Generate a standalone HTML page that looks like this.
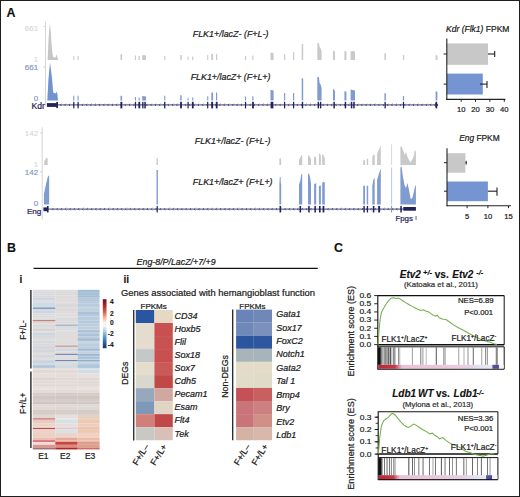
<!DOCTYPE html>
<html><head><meta charset="utf-8"><style>
html,body{margin:0;padding:0;background:#fff;width:520px;height:497px;overflow:hidden}
svg{display:block;font-family:"Liberation Sans", sans-serif}
</style></head><body>
<svg width="520" height="497" viewBox="0 0 520 497">
<rect x="0" y="0" width="520" height="497" fill="#fff"/>
<text x="6.5" y="17.4" font-size="12.4" fill="#111" stroke="#111" stroke-width="0.132" text-anchor="start" font-style="normal" font-weight="bold" >A</text>
<line x1="45.5" y1="21.5" x2="45.5" y2="106" stroke="#d6ced2" stroke-width="0.9" />
<line x1="43.3" y1="26.6" x2="45.5" y2="26.6" stroke="#d6ced2" stroke-width="0.9" />
<line x1="43.3" y1="67" x2="45.5" y2="67" stroke="#d6ced2" stroke-width="0.9" />
<text x="38.1" y="31.4" font-size="8.0" fill="#d6d6d6" stroke="#d6d6d6" stroke-width="0.1" text-anchor="end" font-style="normal" font-weight="normal" >661</text>
<text x="38.1" y="62.0" font-size="8.0" fill="#d6d6d6" stroke="#d6d6d6" stroke-width="0.1" text-anchor="end" font-style="normal" font-weight="normal" >1</text>
<text x="38.1" y="69.9" font-size="8.0" fill="#7f98c6" stroke="#7f98c6" stroke-width="0.18" text-anchor="end" font-style="normal" font-weight="normal" >661</text>
<text x="38.1" y="101.4" font-size="8.0" fill="#7f98c6" stroke="#7f98c6" stroke-width="0.18" text-anchor="end" font-style="normal" font-weight="normal" >0</text>
<text x="44.8" y="108.6" font-size="8.5" fill="#23235c" stroke="#23235c" stroke-width="0.22" text-anchor="end" font-style="normal" font-weight="normal" >Kdr</text>
<polygon points="47.60,60.00 48.60,38.00 49.90,22.60 50.80,32.00 51.60,45.00 52.50,54.00 53.40,57.20 55.50,57.40 56.50,54.40 57.40,57.00 58.20,60.00" fill="#c6c6c6" />
<polygon points="47.30,100.60 48.40,80.00 50.00,62.50 51.00,70.00 52.10,79.00 53.20,92.40 55.50,93.60 56.70,91.80 57.40,94.00 58.00,100.60" fill="#7392d0" />
<polygon points="73.20,60.00 73.20,56.60 73.59,56.00 74.30,56.00 74.30,60.00" fill="#c9c9c9" />
<polygon points="73.20,100.60 73.20,95.80 74.30,95.80 74.30,100.60" fill="#809bd0" />
<polygon points="77.50,60.00 77.50,56.60 77.88,56.00 78.60,56.00 78.60,60.00" fill="#c9c9c9" />
<polygon points="77.50,100.60 77.50,95.80 78.60,95.80 78.60,100.60" fill="#809bd0" />
<polygon points="120.50,60.00 120.50,54.40 121.06,53.80 122.10,54.50 122.10,60.00" fill="#c9c9c9" />
<polygon points="120.50,100.60 120.50,95.80 122.10,95.80 122.10,100.60" fill="#809bd0" />
<polygon points="134.90,60.00 134.90,56.10 135.28,55.50 136.00,55.50 136.00,60.00" fill="#c9c9c9" />
<polygon points="134.90,100.60 134.90,97.10 136.00,97.10 136.00,100.60" fill="#809bd0" />
<polygon points="138.60,60.00 138.60,56.60 139.02,56.00 139.80,56.00 139.80,60.00" fill="#c9c9c9" />
<polygon points="138.60,100.60 138.60,97.80 139.80,97.80 139.80,100.60" fill="#809bd0" />
<polygon points="142.20,60.00 142.20,55.60 143.53,55.00 146.00,55.40 146.00,60.00" fill="#c9c9c9" />
<polygon points="142.20,100.60 142.20,96.00 146.00,96.40 146.00,100.60" fill="#809bd0" />
<polygon points="164.20,60.00 164.20,56.60 164.59,56.00 165.30,56.00 165.30,60.00" fill="#c9c9c9" />
<polygon points="164.20,100.60 164.20,95.80 165.30,95.80 165.30,100.60" fill="#809bd0" />
<polygon points="180.20,60.00 180.20,55.60 180.72,55.00 181.70,55.00 181.70,60.00" fill="#c9c9c9" />
<polygon points="180.20,100.60 180.20,95.10 181.70,95.60 181.70,100.60" fill="#809bd0" />
<polygon points="187.60,60.00 187.60,57.10 187.95,56.50 188.60,56.50 188.60,60.00" fill="#c9c9c9" />
<polygon points="187.60,100.60 187.60,97.80 188.60,97.80 188.60,100.60" fill="#809bd0" />
<polygon points="192.10,60.00 192.10,57.10 192.52,56.50 193.30,56.50 193.30,60.00" fill="#c9c9c9" />
<polygon points="192.10,100.60 192.10,97.40 193.30,97.40 193.30,100.60" fill="#809bd0" />
<polygon points="207.20,60.00 207.20,55.60 207.59,55.00 208.30,55.00 208.30,60.00" fill="#c9c9c9" />
<polygon points="207.20,100.60 207.20,96.20 208.30,96.20 208.30,100.60" fill="#809bd0" />
<polygon points="211.30,60.00 211.30,54.40 211.93,53.80 213.10,54.00 213.10,60.00" fill="#c9c9c9" />
<polygon points="211.30,100.60 211.30,92.40 213.10,92.60 213.10,100.60" fill="#809bd0" />
<polygon points="216.00,60.00 216.00,54.40 216.42,53.80 217.20,54.00 217.20,60.00" fill="#c9c9c9" />
<polygon points="216.00,100.60 216.00,92.40 217.20,92.60 217.20,100.60" fill="#809bd0" />
<polygon points="244.90,60.00 244.90,56.10 245.32,55.50 246.10,56.50 246.10,60.00" fill="#c9c9c9" />
<polygon points="244.90,100.60 244.90,95.90 246.10,97.00 246.10,100.60" fill="#809bd0" />
<polygon points="252.30,60.00 252.30,56.10 252.72,55.50 253.50,55.50 253.50,60.00" fill="#c9c9c9" />
<polygon points="252.30,100.60 252.30,95.90 253.50,96.40 253.50,100.60" fill="#809bd0" />
<polygon points="270.50,60.00 270.50,53.10 271.59,52.50 273.60,53.50 273.60,60.00" fill="#c9c9c9" />
<polygon points="270.50,100.60 270.50,89.70 273.60,90.50 273.60,100.60" fill="#809bd0" />
<polygon points="284.00,60.00 284.00,54.60 284.42,54.00 285.20,54.00 285.20,60.00" fill="#c9c9c9" />
<polygon points="284.00,100.60 284.00,93.00 285.20,93.00 285.20,100.60" fill="#809bd0" />
<polygon points="293.00,60.00 293.00,52.60 293.42,52.00 294.20,52.00 294.20,60.00" fill="#c9c9c9" />
<polygon points="293.00,100.60 293.00,93.00 294.20,93.00 294.20,100.60" fill="#809bd0" />
<polygon points="301.70,60.00 301.70,44.40 302.22,43.80 303.20,44.50 303.20,60.00" fill="#c9c9c9" />
<polygon points="301.70,100.60 301.70,78.00 303.20,78.50 303.20,100.60" fill="#809bd0" />
<polygon points="317.30,60.00 317.30,43.50 318.00,42.50 319.00,43.50 319.60,47.00 320.60,48.50 321.60,51.00 321.60,60.00" fill="#c9c9c9" />
<polygon points="317.30,100.60 317.30,77.20 318.00,76.70 319.00,77.50 319.60,83.00 320.60,84.50 321.60,88.00 321.60,100.60" fill="#809bd0" />
<polygon points="333.00,60.00 333.00,51.10 333.70,50.50 335.00,52.00 335.00,60.00" fill="#c9c9c9" />
<polygon points="333.00,100.60 333.00,88.50 335.00,91.00 335.00,100.60" fill="#809bd0" />
<polygon points="344.40,60.00 344.40,51.60 345.10,51.00 346.40,51.50 346.40,60.00" fill="#c9c9c9" />
<polygon points="344.40,100.60 344.40,91.20 346.40,91.50 346.40,100.60" fill="#809bd0" />
<polygon points="350.60,60.00 350.60,51.60 352.14,51.00 355.00,51.50 355.00,60.00" fill="#c9c9c9" />
<polygon points="350.60,100.60 350.60,89.60 355.00,90.50 355.00,100.60" fill="#809bd0" />
<polygon points="384.40,60.00 384.40,53.60 384.92,53.00 385.90,53.50 385.90,60.00" fill="#c9c9c9" />
<polygon points="384.40,100.60 384.40,93.00 385.90,93.50 385.90,100.60" fill="#809bd0" />
<polygon points="402.90,60.00 402.90,55.60 403.32,55.00 404.10,55.00 404.10,60.00" fill="#c9c9c9" />
<polygon points="402.90,100.60 402.90,96.00 404.10,96.00 404.10,100.60" fill="#809bd0" />
<polygon points="435.60,60.00 435.60,55.60 436.23,55.00 437.40,55.50 437.40,60.00" fill="#c9c9c9" />
<polygon points="435.60,100.60 435.60,91.20 437.40,91.80 437.40,100.60" fill="#809bd0" />
<line x1="47" y1="104.9" x2="437.5" y2="104.9" stroke="#6a6a96" stroke-width="1.2" />
<path d="M61.4,103.8 L60.3,104.9 L61.4,106.0" fill="none" stroke="#3a3a70" stroke-width="0.8"/>
<path d="M65.7,103.8 L64.6,104.9 L65.7,106.0" fill="none" stroke="#3a3a70" stroke-width="0.8"/>
<path d="M70.0,103.8 L68.9,104.9 L70.0,106.0" fill="none" stroke="#3a3a70" stroke-width="0.8"/>
<path d="M74.3,103.8 L73.2,104.9 L74.3,106.0" fill="none" stroke="#3a3a70" stroke-width="0.8"/>
<path d="M78.6,103.8 L77.5,104.9 L78.6,106.0" fill="none" stroke="#3a3a70" stroke-width="0.8"/>
<path d="M82.9,103.8 L81.8,104.9 L82.9,106.0" fill="none" stroke="#3a3a70" stroke-width="0.8"/>
<path d="M87.2,103.8 L86.1,104.9 L87.2,106.0" fill="none" stroke="#3a3a70" stroke-width="0.8"/>
<path d="M91.5,103.8 L90.4,104.9 L91.5,106.0" fill="none" stroke="#3a3a70" stroke-width="0.8"/>
<path d="M95.8,103.8 L94.7,104.9 L95.8,106.0" fill="none" stroke="#3a3a70" stroke-width="0.8"/>
<path d="M100.1,103.8 L99.0,104.9 L100.1,106.0" fill="none" stroke="#3a3a70" stroke-width="0.8"/>
<path d="M104.4,103.8 L103.3,104.9 L104.4,106.0" fill="none" stroke="#3a3a70" stroke-width="0.8"/>
<path d="M108.7,103.8 L107.6,104.9 L108.7,106.0" fill="none" stroke="#3a3a70" stroke-width="0.8"/>
<path d="M113.0,103.8 L111.9,104.9 L113.0,106.0" fill="none" stroke="#3a3a70" stroke-width="0.8"/>
<path d="M117.3,103.8 L116.2,104.9 L117.3,106.0" fill="none" stroke="#3a3a70" stroke-width="0.8"/>
<path d="M121.6,103.8 L120.5,104.9 L121.6,106.0" fill="none" stroke="#3a3a70" stroke-width="0.8"/>
<path d="M125.9,103.8 L124.8,104.9 L125.9,106.0" fill="none" stroke="#3a3a70" stroke-width="0.8"/>
<path d="M130.2,103.8 L129.1,104.9 L130.2,106.0" fill="none" stroke="#3a3a70" stroke-width="0.8"/>
<path d="M134.5,103.8 L133.4,104.9 L134.5,106.0" fill="none" stroke="#3a3a70" stroke-width="0.8"/>
<path d="M138.8,103.8 L137.7,104.9 L138.8,106.0" fill="none" stroke="#3a3a70" stroke-width="0.8"/>
<path d="M143.1,103.8 L142.0,104.9 L143.1,106.0" fill="none" stroke="#3a3a70" stroke-width="0.8"/>
<path d="M147.4,103.8 L146.3,104.9 L147.4,106.0" fill="none" stroke="#3a3a70" stroke-width="0.8"/>
<path d="M151.7,103.8 L150.6,104.9 L151.7,106.0" fill="none" stroke="#3a3a70" stroke-width="0.8"/>
<path d="M156.0,103.8 L154.9,104.9 L156.0,106.0" fill="none" stroke="#3a3a70" stroke-width="0.8"/>
<path d="M160.3,103.8 L159.2,104.9 L160.3,106.0" fill="none" stroke="#3a3a70" stroke-width="0.8"/>
<path d="M164.6,103.8 L163.5,104.9 L164.6,106.0" fill="none" stroke="#3a3a70" stroke-width="0.8"/>
<path d="M168.9,103.8 L167.8,104.9 L168.9,106.0" fill="none" stroke="#3a3a70" stroke-width="0.8"/>
<path d="M173.2,103.8 L172.1,104.9 L173.2,106.0" fill="none" stroke="#3a3a70" stroke-width="0.8"/>
<path d="M177.5,103.8 L176.4,104.9 L177.5,106.0" fill="none" stroke="#3a3a70" stroke-width="0.8"/>
<path d="M181.8,103.8 L180.7,104.9 L181.8,106.0" fill="none" stroke="#3a3a70" stroke-width="0.8"/>
<path d="M186.1,103.8 L185.0,104.9 L186.1,106.0" fill="none" stroke="#3a3a70" stroke-width="0.8"/>
<path d="M190.4,103.8 L189.3,104.9 L190.4,106.0" fill="none" stroke="#3a3a70" stroke-width="0.8"/>
<path d="M194.7,103.8 L193.6,104.9 L194.7,106.0" fill="none" stroke="#3a3a70" stroke-width="0.8"/>
<path d="M199.0,103.8 L197.9,104.9 L199.0,106.0" fill="none" stroke="#3a3a70" stroke-width="0.8"/>
<path d="M203.3,103.8 L202.2,104.9 L203.3,106.0" fill="none" stroke="#3a3a70" stroke-width="0.8"/>
<path d="M207.6,103.8 L206.5,104.9 L207.6,106.0" fill="none" stroke="#3a3a70" stroke-width="0.8"/>
<path d="M211.9,103.8 L210.8,104.9 L211.9,106.0" fill="none" stroke="#3a3a70" stroke-width="0.8"/>
<path d="M216.2,103.8 L215.1,104.9 L216.2,106.0" fill="none" stroke="#3a3a70" stroke-width="0.8"/>
<path d="M220.5,103.8 L219.4,104.9 L220.5,106.0" fill="none" stroke="#3a3a70" stroke-width="0.8"/>
<path d="M224.8,103.8 L223.7,104.9 L224.8,106.0" fill="none" stroke="#3a3a70" stroke-width="0.8"/>
<path d="M229.1,103.8 L228.0,104.9 L229.1,106.0" fill="none" stroke="#3a3a70" stroke-width="0.8"/>
<path d="M233.4,103.8 L232.3,104.9 L233.4,106.0" fill="none" stroke="#3a3a70" stroke-width="0.8"/>
<path d="M237.7,103.8 L236.6,104.9 L237.7,106.0" fill="none" stroke="#3a3a70" stroke-width="0.8"/>
<path d="M242.0,103.8 L240.9,104.9 L242.0,106.0" fill="none" stroke="#3a3a70" stroke-width="0.8"/>
<path d="M246.3,103.8 L245.2,104.9 L246.3,106.0" fill="none" stroke="#3a3a70" stroke-width="0.8"/>
<path d="M250.6,103.8 L249.5,104.9 L250.6,106.0" fill="none" stroke="#3a3a70" stroke-width="0.8"/>
<path d="M254.9,103.8 L253.8,104.9 L254.9,106.0" fill="none" stroke="#3a3a70" stroke-width="0.8"/>
<path d="M259.2,103.8 L258.1,104.9 L259.2,106.0" fill="none" stroke="#3a3a70" stroke-width="0.8"/>
<path d="M263.5,103.8 L262.4,104.9 L263.5,106.0" fill="none" stroke="#3a3a70" stroke-width="0.8"/>
<path d="M267.8,103.8 L266.7,104.9 L267.8,106.0" fill="none" stroke="#3a3a70" stroke-width="0.8"/>
<path d="M272.1,103.8 L271.0,104.9 L272.1,106.0" fill="none" stroke="#3a3a70" stroke-width="0.8"/>
<path d="M276.4,103.8 L275.3,104.9 L276.4,106.0" fill="none" stroke="#3a3a70" stroke-width="0.8"/>
<path d="M280.7,103.8 L279.6,104.9 L280.7,106.0" fill="none" stroke="#3a3a70" stroke-width="0.8"/>
<path d="M285.0,103.8 L283.9,104.9 L285.0,106.0" fill="none" stroke="#3a3a70" stroke-width="0.8"/>
<path d="M289.3,103.8 L288.2,104.9 L289.3,106.0" fill="none" stroke="#3a3a70" stroke-width="0.8"/>
<path d="M293.6,103.8 L292.5,104.9 L293.6,106.0" fill="none" stroke="#3a3a70" stroke-width="0.8"/>
<path d="M297.9,103.8 L296.8,104.9 L297.9,106.0" fill="none" stroke="#3a3a70" stroke-width="0.8"/>
<path d="M302.2,103.8 L301.1,104.9 L302.2,106.0" fill="none" stroke="#3a3a70" stroke-width="0.8"/>
<path d="M306.5,103.8 L305.4,104.9 L306.5,106.0" fill="none" stroke="#3a3a70" stroke-width="0.8"/>
<path d="M310.8,103.8 L309.7,104.9 L310.8,106.0" fill="none" stroke="#3a3a70" stroke-width="0.8"/>
<path d="M315.1,103.8 L314.0,104.9 L315.1,106.0" fill="none" stroke="#3a3a70" stroke-width="0.8"/>
<path d="M319.4,103.8 L318.3,104.9 L319.4,106.0" fill="none" stroke="#3a3a70" stroke-width="0.8"/>
<path d="M323.7,103.8 L322.6,104.9 L323.7,106.0" fill="none" stroke="#3a3a70" stroke-width="0.8"/>
<path d="M328.0,103.8 L326.9,104.9 L328.0,106.0" fill="none" stroke="#3a3a70" stroke-width="0.8"/>
<path d="M332.3,103.8 L331.2,104.9 L332.3,106.0" fill="none" stroke="#3a3a70" stroke-width="0.8"/>
<path d="M336.6,103.8 L335.5,104.9 L336.6,106.0" fill="none" stroke="#3a3a70" stroke-width="0.8"/>
<path d="M340.9,103.8 L339.8,104.9 L340.9,106.0" fill="none" stroke="#3a3a70" stroke-width="0.8"/>
<path d="M345.2,103.8 L344.1,104.9 L345.2,106.0" fill="none" stroke="#3a3a70" stroke-width="0.8"/>
<path d="M349.5,103.8 L348.4,104.9 L349.5,106.0" fill="none" stroke="#3a3a70" stroke-width="0.8"/>
<path d="M353.8,103.8 L352.7,104.9 L353.8,106.0" fill="none" stroke="#3a3a70" stroke-width="0.8"/>
<path d="M358.1,103.8 L357.0,104.9 L358.1,106.0" fill="none" stroke="#3a3a70" stroke-width="0.8"/>
<path d="M362.4,103.8 L361.3,104.9 L362.4,106.0" fill="none" stroke="#3a3a70" stroke-width="0.8"/>
<path d="M366.7,103.8 L365.6,104.9 L366.7,106.0" fill="none" stroke="#3a3a70" stroke-width="0.8"/>
<path d="M371.0,103.8 L369.9,104.9 L371.0,106.0" fill="none" stroke="#3a3a70" stroke-width="0.8"/>
<path d="M375.3,103.8 L374.2,104.9 L375.3,106.0" fill="none" stroke="#3a3a70" stroke-width="0.8"/>
<path d="M379.6,103.8 L378.5,104.9 L379.6,106.0" fill="none" stroke="#3a3a70" stroke-width="0.8"/>
<path d="M383.9,103.8 L382.8,104.9 L383.9,106.0" fill="none" stroke="#3a3a70" stroke-width="0.8"/>
<path d="M388.2,103.8 L387.1,104.9 L388.2,106.0" fill="none" stroke="#3a3a70" stroke-width="0.8"/>
<path d="M392.5,103.8 L391.4,104.9 L392.5,106.0" fill="none" stroke="#3a3a70" stroke-width="0.8"/>
<path d="M396.8,103.8 L395.7,104.9 L396.8,106.0" fill="none" stroke="#3a3a70" stroke-width="0.8"/>
<path d="M401.1,103.8 L400.0,104.9 L401.1,106.0" fill="none" stroke="#3a3a70" stroke-width="0.8"/>
<path d="M405.4,103.8 L404.3,104.9 L405.4,106.0" fill="none" stroke="#3a3a70" stroke-width="0.8"/>
<path d="M409.7,103.8 L408.6,104.9 L409.7,106.0" fill="none" stroke="#3a3a70" stroke-width="0.8"/>
<path d="M414.0,103.8 L412.9,104.9 L414.0,106.0" fill="none" stroke="#3a3a70" stroke-width="0.8"/>
<path d="M418.3,103.8 L417.2,104.9 L418.3,106.0" fill="none" stroke="#3a3a70" stroke-width="0.8"/>
<path d="M422.6,103.8 L421.5,104.9 L422.6,106.0" fill="none" stroke="#3a3a70" stroke-width="0.8"/>
<path d="M426.9,103.8 L425.8,104.9 L426.9,106.0" fill="none" stroke="#3a3a70" stroke-width="0.8"/>
<path d="M431.2,103.8 L430.1,104.9 L431.2,106.0" fill="none" stroke="#3a3a70" stroke-width="0.8"/>
<path d="M435.5,103.8 L434.4,104.9 L435.5,106.0" fill="none" stroke="#3a3a70" stroke-width="0.8"/>
<rect x="46.90" y="103.10" width="10.00" height="3.80" fill="#23235c" />
<rect x="56.30" y="101.90" width="1.70" height="6.20" fill="#23235c" />
<rect x="73.20" y="101.80" width="1.20" height="6.60" fill="#23235c" />
<rect x="77.50" y="101.80" width="1.20" height="6.60" fill="#23235c" />
<rect x="120.40" y="101.80" width="1.90" height="6.60" fill="#23235c" />
<rect x="134.90" y="101.80" width="1.20" height="6.60" fill="#23235c" />
<rect x="138.40" y="101.80" width="1.80" height="6.60" fill="#23235c" />
<rect x="142.20" y="101.80" width="1.30" height="6.60" fill="#23235c" />
<rect x="144.30" y="101.80" width="1.50" height="6.60" fill="#23235c" />
<rect x="164.10" y="101.80" width="1.30" height="6.60" fill="#23235c" />
<rect x="180.10" y="101.80" width="1.80" height="6.60" fill="#23235c" />
<rect x="187.50" y="101.80" width="1.20" height="6.60" fill="#23235c" />
<rect x="191.90" y="101.80" width="1.80" height="6.60" fill="#23235c" />
<rect x="207.10" y="101.80" width="1.20" height="6.60" fill="#23235c" />
<rect x="211.20" y="101.80" width="1.90" height="6.60" fill="#23235c" />
<rect x="215.80" y="101.80" width="1.80" height="6.60" fill="#23235c" />
<rect x="244.90" y="101.80" width="1.20" height="6.60" fill="#23235c" />
<rect x="252.10" y="101.80" width="1.80" height="6.60" fill="#23235c" />
<rect x="270.60" y="101.80" width="2.80" height="6.60" fill="#23235c" />
<rect x="284.00" y="101.80" width="1.20" height="6.60" fill="#23235c" />
<rect x="293.00" y="101.80" width="1.20" height="6.60" fill="#23235c" />
<rect x="301.80" y="101.80" width="1.40" height="6.60" fill="#23235c" />
<rect x="317.60" y="101.80" width="1.40" height="6.60" fill="#23235c" />
<rect x="319.90" y="101.80" width="1.40" height="6.60" fill="#23235c" />
<rect x="333.40" y="101.80" width="1.50" height="6.60" fill="#23235c" />
<rect x="344.70" y="101.80" width="1.50" height="6.60" fill="#23235c" />
<rect x="350.80" y="101.80" width="1.50" height="6.60" fill="#23235c" />
<rect x="353.20" y="101.80" width="1.50" height="6.60" fill="#23235c" />
<rect x="384.50" y="101.80" width="1.30" height="6.60" fill="#23235c" />
<rect x="402.90" y="101.80" width="1.20" height="6.60" fill="#23235c" />
<rect x="435.60" y="101.80" width="1.60" height="6.60" fill="#23235c" />
<polygon points="435.40,102.40 438.40,104.90 435.40,107.40" fill="#23235c" />
<text x="192.7" y="37.0" font-size="8.92" fill="#1a1a1a" stroke="#1a1a1a" stroke-width="0.22" text-anchor="start" font-style="italic" font-weight="normal" >FLK1+/lacZ- (F+L-)</text>
<text x="190.7" y="80.0" font-size="8.87" fill="#1a1a1a" stroke="#1a1a1a" stroke-width="0.22" text-anchor="start" font-style="italic" font-weight="normal" >FLK1+/lacZ+ (F+L+)</text>
<line x1="42.2" y1="127.2" x2="42.2" y2="219.5" stroke="#d6ced2" stroke-width="0.9" />
<line x1="40" y1="133.1" x2="42.2" y2="133.1" stroke="#d6ced2" stroke-width="0.9" />
<line x1="40" y1="171.8" x2="42.2" y2="171.8" stroke="#d6ced2" stroke-width="0.9" />
<text x="38.1" y="136.2" font-size="8.0" fill="#d6d6d6" stroke="#d6d6d6" stroke-width="0.1" text-anchor="end" font-style="normal" font-weight="normal" >142</text>
<text x="38.1" y="167.0" font-size="8.0" fill="#d6d6d6" stroke="#d6d6d6" stroke-width="0.1" text-anchor="end" font-style="normal" font-weight="normal" >1</text>
<text x="38.1" y="174.6" font-size="8.0" fill="#7f98c6" stroke="#7f98c6" stroke-width="0.18" text-anchor="end" font-style="normal" font-weight="normal" >142</text>
<text x="38.1" y="206.3" font-size="8.0" fill="#7f98c6" stroke="#7f98c6" stroke-width="0.18" text-anchor="end" font-style="normal" font-weight="normal" >0</text>
<text x="41.3" y="214.0" font-size="8.1" fill="#23235c" stroke="#23235c" stroke-width="0.22" text-anchor="end" font-style="normal" font-weight="normal" >Eng</text>
<polygon points="44.20,165.00 44.40,161.00 46.20,158.00 47.60,158.00 47.60,165.00" fill="#c9c9c9" />
<polygon points="43.90,204.60 43.90,194.00 45.60,186.00 47.60,177.50 48.60,175.40 49.20,176.00 49.20,204.60" fill="#809bd0" />
<polygon points="156.50,204.60 156.50,170.00 157.90,170.00 157.90,204.60" fill="#809bd0" />
<polygon points="156.50,165.00 156.60,158.00 157.80,158.00 157.90,165.00" fill="#c9c9c9" />
<polygon points="279.40,204.60 279.40,184.00 279.80,177.00 280.60,177.00 280.80,183.00 281.20,184.00 281.20,204.60" fill="#809bd0" />
<polygon points="279.40,165.00 279.40,159.00 280.20,157.50 281.20,160.00 281.20,165.00" fill="#c9c9c9" />
<polygon points="299.00,204.60 299.00,184.50 300.20,181.00 301.40,174.00 302.20,173.50 302.20,204.60" fill="#809bd0" />
<polygon points="299.00,165.00 299.00,160.00 301.50,155.00 302.20,156.00 302.20,165.00" fill="#c9c9c9" />
<polygon points="308.00,204.60 308.00,174.00 309.00,173.60 310.20,178.00 311.00,183.50 311.00,204.60" fill="#809bd0" />
<polygon points="308.00,165.00 308.00,156.00 308.80,155.00 311.00,159.00 311.00,165.00" fill="#c9c9c9" />
<polygon points="314.10,204.60 314.10,184.00 316.20,183.30 316.20,204.60" fill="#809bd0" />
<polygon points="314.10,165.00 314.10,157.50 315.00,155.90 316.20,158.00 316.20,165.00" fill="#c9c9c9" />
<polygon points="318.90,204.60 318.90,186.00 320.90,185.60 320.90,204.60" fill="#809bd0" />
<polygon points="318.90,165.00 318.90,155.00 319.70,153.00 320.90,156.00 320.90,165.00" fill="#c9c9c9" />
<polygon points="322.20,204.60 322.20,183.00 323.80,181.80 324.80,182.50 324.80,204.60" fill="#809bd0" />
<polygon points="322.20,165.00 322.20,155.00 323.00,154.00 324.80,158.50 324.80,165.00" fill="#c9c9c9" />
<polygon points="363.20,204.60 363.20,186.00 365.00,185.60 365.00,204.60" fill="#809bd0" />
<polygon points="363.20,165.00 363.20,160.50 365.00,160.00 365.00,165.00" fill="#c9c9c9" />
<polygon points="366.70,204.60 366.70,186.00 368.20,185.60 368.20,204.60" fill="#809bd0" />
<polygon points="366.70,165.00 366.70,159.00 368.20,158.60 368.20,165.00" fill="#c9c9c9" />
<polygon points="372.30,204.60 372.30,186.00 373.30,180.00 374.70,177.50 374.70,204.60" fill="#809bd0" />
<polygon points="372.30,165.00 372.30,157.00 373.60,154.40 374.70,155.00 374.70,165.00" fill="#c9c9c9" />
<polygon points="377.10,204.60 377.10,180.00 378.50,175.00 380.80,168.60 380.80,204.60" fill="#809bd0" />
<polygon points="377.10,165.00 377.10,154.00 378.80,150.00 380.80,145.80 380.80,165.00" fill="#c9c9c9" />
<line x1="391.6" y1="144.3" x2="391.6" y2="165" stroke="#d8d8d8" stroke-width="1" />
<line x1="391.6" y1="167.5" x2="391.6" y2="204.6" stroke="#bccbe6" stroke-width="1" />
<polygon points="400.40,165.00 400.40,146.50 401.50,146.20 403.00,150.00 404.50,155.00 406.00,152.00 407.50,157.00 409.00,160.00 410.50,162.50 412.00,160.00 413.50,157.00 415.00,149.50 415.90,152.00 415.90,165.00" fill="#c9c9c9" />
<polygon points="400.40,204.60 400.40,167.60 401.50,166.30 403.00,177.00 404.50,185.00 406.00,188.00 407.50,183.00 409.00,190.00 410.80,199.50 412.50,197.50 414.00,191.00 415.30,185.30 415.90,186.00 415.90,204.60" fill="#809bd0" />
<line x1="43.5" y1="209.2" x2="416" y2="209.2" stroke="#6a6a96" stroke-width="1.2" />
<path d="M53.4,208.1 L52.3,209.2 L53.4,210.3" fill="none" stroke="#3a3a70" stroke-width="0.8"/>
<path d="M57.7,208.1 L56.6,209.2 L57.7,210.3" fill="none" stroke="#3a3a70" stroke-width="0.8"/>
<path d="M62.0,208.1 L60.9,209.2 L62.0,210.3" fill="none" stroke="#3a3a70" stroke-width="0.8"/>
<path d="M66.3,208.1 L65.2,209.2 L66.3,210.3" fill="none" stroke="#3a3a70" stroke-width="0.8"/>
<path d="M70.6,208.1 L69.5,209.2 L70.6,210.3" fill="none" stroke="#3a3a70" stroke-width="0.8"/>
<path d="M74.9,208.1 L73.8,209.2 L74.9,210.3" fill="none" stroke="#3a3a70" stroke-width="0.8"/>
<path d="M79.2,208.1 L78.1,209.2 L79.2,210.3" fill="none" stroke="#3a3a70" stroke-width="0.8"/>
<path d="M83.5,208.1 L82.4,209.2 L83.5,210.3" fill="none" stroke="#3a3a70" stroke-width="0.8"/>
<path d="M87.8,208.1 L86.7,209.2 L87.8,210.3" fill="none" stroke="#3a3a70" stroke-width="0.8"/>
<path d="M92.1,208.1 L91.0,209.2 L92.1,210.3" fill="none" stroke="#3a3a70" stroke-width="0.8"/>
<path d="M96.4,208.1 L95.3,209.2 L96.4,210.3" fill="none" stroke="#3a3a70" stroke-width="0.8"/>
<path d="M100.7,208.1 L99.6,209.2 L100.7,210.3" fill="none" stroke="#3a3a70" stroke-width="0.8"/>
<path d="M105.0,208.1 L103.9,209.2 L105.0,210.3" fill="none" stroke="#3a3a70" stroke-width="0.8"/>
<path d="M109.3,208.1 L108.2,209.2 L109.3,210.3" fill="none" stroke="#3a3a70" stroke-width="0.8"/>
<path d="M113.6,208.1 L112.5,209.2 L113.6,210.3" fill="none" stroke="#3a3a70" stroke-width="0.8"/>
<path d="M117.9,208.1 L116.8,209.2 L117.9,210.3" fill="none" stroke="#3a3a70" stroke-width="0.8"/>
<path d="M122.2,208.1 L121.1,209.2 L122.2,210.3" fill="none" stroke="#3a3a70" stroke-width="0.8"/>
<path d="M126.5,208.1 L125.4,209.2 L126.5,210.3" fill="none" stroke="#3a3a70" stroke-width="0.8"/>
<path d="M130.8,208.1 L129.7,209.2 L130.8,210.3" fill="none" stroke="#3a3a70" stroke-width="0.8"/>
<path d="M135.1,208.1 L134.0,209.2 L135.1,210.3" fill="none" stroke="#3a3a70" stroke-width="0.8"/>
<path d="M139.4,208.1 L138.3,209.2 L139.4,210.3" fill="none" stroke="#3a3a70" stroke-width="0.8"/>
<path d="M143.7,208.1 L142.6,209.2 L143.7,210.3" fill="none" stroke="#3a3a70" stroke-width="0.8"/>
<path d="M148.0,208.1 L146.9,209.2 L148.0,210.3" fill="none" stroke="#3a3a70" stroke-width="0.8"/>
<path d="M152.3,208.1 L151.2,209.2 L152.3,210.3" fill="none" stroke="#3a3a70" stroke-width="0.8"/>
<path d="M156.6,208.1 L155.5,209.2 L156.6,210.3" fill="none" stroke="#3a3a70" stroke-width="0.8"/>
<path d="M160.9,208.1 L159.8,209.2 L160.9,210.3" fill="none" stroke="#3a3a70" stroke-width="0.8"/>
<path d="M165.2,208.1 L164.1,209.2 L165.2,210.3" fill="none" stroke="#3a3a70" stroke-width="0.8"/>
<path d="M169.5,208.1 L168.4,209.2 L169.5,210.3" fill="none" stroke="#3a3a70" stroke-width="0.8"/>
<path d="M173.8,208.1 L172.7,209.2 L173.8,210.3" fill="none" stroke="#3a3a70" stroke-width="0.8"/>
<path d="M178.1,208.1 L177.0,209.2 L178.1,210.3" fill="none" stroke="#3a3a70" stroke-width="0.8"/>
<path d="M182.4,208.1 L181.3,209.2 L182.4,210.3" fill="none" stroke="#3a3a70" stroke-width="0.8"/>
<path d="M186.7,208.1 L185.6,209.2 L186.7,210.3" fill="none" stroke="#3a3a70" stroke-width="0.8"/>
<path d="M191.0,208.1 L189.9,209.2 L191.0,210.3" fill="none" stroke="#3a3a70" stroke-width="0.8"/>
<path d="M195.3,208.1 L194.2,209.2 L195.3,210.3" fill="none" stroke="#3a3a70" stroke-width="0.8"/>
<path d="M199.6,208.1 L198.5,209.2 L199.6,210.3" fill="none" stroke="#3a3a70" stroke-width="0.8"/>
<path d="M203.9,208.1 L202.8,209.2 L203.9,210.3" fill="none" stroke="#3a3a70" stroke-width="0.8"/>
<path d="M208.2,208.1 L207.1,209.2 L208.2,210.3" fill="none" stroke="#3a3a70" stroke-width="0.8"/>
<path d="M212.5,208.1 L211.4,209.2 L212.5,210.3" fill="none" stroke="#3a3a70" stroke-width="0.8"/>
<path d="M216.8,208.1 L215.7,209.2 L216.8,210.3" fill="none" stroke="#3a3a70" stroke-width="0.8"/>
<path d="M221.1,208.1 L220.0,209.2 L221.1,210.3" fill="none" stroke="#3a3a70" stroke-width="0.8"/>
<path d="M225.4,208.1 L224.3,209.2 L225.4,210.3" fill="none" stroke="#3a3a70" stroke-width="0.8"/>
<path d="M229.7,208.1 L228.6,209.2 L229.7,210.3" fill="none" stroke="#3a3a70" stroke-width="0.8"/>
<path d="M234.0,208.1 L232.9,209.2 L234.0,210.3" fill="none" stroke="#3a3a70" stroke-width="0.8"/>
<path d="M238.3,208.1 L237.2,209.2 L238.3,210.3" fill="none" stroke="#3a3a70" stroke-width="0.8"/>
<path d="M242.6,208.1 L241.5,209.2 L242.6,210.3" fill="none" stroke="#3a3a70" stroke-width="0.8"/>
<path d="M246.9,208.1 L245.8,209.2 L246.9,210.3" fill="none" stroke="#3a3a70" stroke-width="0.8"/>
<path d="M251.2,208.1 L250.1,209.2 L251.2,210.3" fill="none" stroke="#3a3a70" stroke-width="0.8"/>
<path d="M255.5,208.1 L254.4,209.2 L255.5,210.3" fill="none" stroke="#3a3a70" stroke-width="0.8"/>
<path d="M259.8,208.1 L258.7,209.2 L259.8,210.3" fill="none" stroke="#3a3a70" stroke-width="0.8"/>
<path d="M264.1,208.1 L263.0,209.2 L264.1,210.3" fill="none" stroke="#3a3a70" stroke-width="0.8"/>
<path d="M268.4,208.1 L267.3,209.2 L268.4,210.3" fill="none" stroke="#3a3a70" stroke-width="0.8"/>
<path d="M272.7,208.1 L271.6,209.2 L272.7,210.3" fill="none" stroke="#3a3a70" stroke-width="0.8"/>
<path d="M277.0,208.1 L275.9,209.2 L277.0,210.3" fill="none" stroke="#3a3a70" stroke-width="0.8"/>
<path d="M281.3,208.1 L280.2,209.2 L281.3,210.3" fill="none" stroke="#3a3a70" stroke-width="0.8"/>
<path d="M285.6,208.1 L284.5,209.2 L285.6,210.3" fill="none" stroke="#3a3a70" stroke-width="0.8"/>
<path d="M289.9,208.1 L288.8,209.2 L289.9,210.3" fill="none" stroke="#3a3a70" stroke-width="0.8"/>
<path d="M294.2,208.1 L293.1,209.2 L294.2,210.3" fill="none" stroke="#3a3a70" stroke-width="0.8"/>
<path d="M298.5,208.1 L297.4,209.2 L298.5,210.3" fill="none" stroke="#3a3a70" stroke-width="0.8"/>
<path d="M302.8,208.1 L301.7,209.2 L302.8,210.3" fill="none" stroke="#3a3a70" stroke-width="0.8"/>
<path d="M307.1,208.1 L306.0,209.2 L307.1,210.3" fill="none" stroke="#3a3a70" stroke-width="0.8"/>
<path d="M311.4,208.1 L310.3,209.2 L311.4,210.3" fill="none" stroke="#3a3a70" stroke-width="0.8"/>
<path d="M315.7,208.1 L314.6,209.2 L315.7,210.3" fill="none" stroke="#3a3a70" stroke-width="0.8"/>
<path d="M320.0,208.1 L318.9,209.2 L320.0,210.3" fill="none" stroke="#3a3a70" stroke-width="0.8"/>
<path d="M324.3,208.1 L323.2,209.2 L324.3,210.3" fill="none" stroke="#3a3a70" stroke-width="0.8"/>
<path d="M328.6,208.1 L327.5,209.2 L328.6,210.3" fill="none" stroke="#3a3a70" stroke-width="0.8"/>
<path d="M332.9,208.1 L331.8,209.2 L332.9,210.3" fill="none" stroke="#3a3a70" stroke-width="0.8"/>
<path d="M337.2,208.1 L336.1,209.2 L337.2,210.3" fill="none" stroke="#3a3a70" stroke-width="0.8"/>
<path d="M341.5,208.1 L340.4,209.2 L341.5,210.3" fill="none" stroke="#3a3a70" stroke-width="0.8"/>
<path d="M345.8,208.1 L344.7,209.2 L345.8,210.3" fill="none" stroke="#3a3a70" stroke-width="0.8"/>
<path d="M350.1,208.1 L349.0,209.2 L350.1,210.3" fill="none" stroke="#3a3a70" stroke-width="0.8"/>
<path d="M354.4,208.1 L353.3,209.2 L354.4,210.3" fill="none" stroke="#3a3a70" stroke-width="0.8"/>
<path d="M358.7,208.1 L357.6,209.2 L358.7,210.3" fill="none" stroke="#3a3a70" stroke-width="0.8"/>
<path d="M363.0,208.1 L361.9,209.2 L363.0,210.3" fill="none" stroke="#3a3a70" stroke-width="0.8"/>
<path d="M367.3,208.1 L366.2,209.2 L367.3,210.3" fill="none" stroke="#3a3a70" stroke-width="0.8"/>
<path d="M371.6,208.1 L370.5,209.2 L371.6,210.3" fill="none" stroke="#3a3a70" stroke-width="0.8"/>
<path d="M375.9,208.1 L374.8,209.2 L375.9,210.3" fill="none" stroke="#3a3a70" stroke-width="0.8"/>
<path d="M380.2,208.1 L379.1,209.2 L380.2,210.3" fill="none" stroke="#3a3a70" stroke-width="0.8"/>
<path d="M384.5,208.1 L383.4,209.2 L384.5,210.3" fill="none" stroke="#3a3a70" stroke-width="0.8"/>
<path d="M388.8,208.1 L387.7,209.2 L388.8,210.3" fill="none" stroke="#3a3a70" stroke-width="0.8"/>
<path d="M393.1,208.1 L392.0,209.2 L393.1,210.3" fill="none" stroke="#3a3a70" stroke-width="0.8"/>
<path d="M397.4,208.1 L396.3,209.2 L397.4,210.3" fill="none" stroke="#3a3a70" stroke-width="0.8"/>
<path d="M401.7,208.1 L400.6,209.2 L401.7,210.3" fill="none" stroke="#3a3a70" stroke-width="0.8"/>
<rect x="43.50" y="207.40" width="4.00" height="3.80" fill="#23235c" />
<rect x="47.00" y="206.00" width="1.60" height="6.40" fill="#23235c" />
<rect x="156.60" y="205.90" width="1.20" height="6.60" fill="#23235c" />
<rect x="279.50" y="205.90" width="1.60" height="6.60" fill="#23235c" />
<rect x="299.50" y="205.90" width="1.60" height="6.60" fill="#23235c" />
<rect x="308.20" y="205.90" width="1.50" height="6.60" fill="#23235c" />
<rect x="314.40" y="205.90" width="1.50" height="6.60" fill="#23235c" />
<rect x="319.00" y="205.90" width="1.60" height="6.60" fill="#23235c" />
<rect x="322.60" y="205.90" width="1.70" height="6.60" fill="#23235c" />
<rect x="363.40" y="205.90" width="1.40" height="6.60" fill="#23235c" />
<rect x="366.80" y="205.90" width="1.30" height="6.60" fill="#23235c" />
<rect x="372.80" y="205.90" width="1.60" height="6.60" fill="#23235c" />
<rect x="378.20" y="205.90" width="1.90" height="6.60" fill="#23235c" />
<rect x="391.10" y="205.90" width="1.00" height="6.60" fill="#8a8ab0" />
<rect x="400.30" y="205.90" width="1.50" height="6.60" fill="#23235c" />
<rect x="403.30" y="207.00" width="12.60" height="3.70" fill="#23235c" />
<text x="395.4" y="220.6" font-size="7.9" fill="#23235c" stroke="#23235c" stroke-width="0.22" text-anchor="start" font-style="normal" font-weight="normal" >Fpgs</text>
<rect x="415.60" y="216.00" width="0.90" height="4.00" fill="#555580" />
<text x="194.7" y="144.4" font-size="8.92" fill="#1a1a1a" stroke="#1a1a1a" stroke-width="0.22" text-anchor="start" font-style="italic" font-weight="normal" >FLK1+/lacZ- (F+L-)</text>
<text x="192.8" y="184.8" font-size="8.87" fill="#1a1a1a" stroke="#1a1a1a" stroke-width="0.22" text-anchor="start" font-style="italic" font-weight="normal" >FLK1+/lacZ+ (F+L+)</text>
<text x="446.1" y="32.2" font-size="8.5" fill="#1a1a1a" stroke="#1a1a1a" stroke-width="0.22" text-anchor="start" font-style="normal" font-weight="normal" ><tspan font-style="italic">Kdr (Flk1)</tspan> FPKM</text>
<rect x="446.80" y="43.40" width="41.20" height="21.40" fill="#c8c8c8" />
<rect x="446.80" y="73.60" width="36.00" height="20.90" fill="#7595d2" />
<line x1="488" y1="54" x2="494.7" y2="54" stroke="#222" stroke-width="1.1" />
<line x1="494.7" y1="51.1" x2="494.7" y2="56.9" stroke="#222" stroke-width="1.1" />
<line x1="480" y1="84.1" x2="487" y2="84.1" stroke="#222" stroke-width="1.1" />
<line x1="487" y1="80.9" x2="487" y2="88.1" stroke="#222" stroke-width="1.1" />
<line x1="446.8" y1="38.5" x2="446.8" y2="99.9" stroke="#222" stroke-width="1.1" />
<line x1="446.3" y1="99.4" x2="505.4" y2="99.4" stroke="#222" stroke-width="1.1" />
<line x1="443.6" y1="54" x2="446.8" y2="54" stroke="#222" stroke-width="1" />
<line x1="443.6" y1="84.1" x2="446.8" y2="84.1" stroke="#222" stroke-width="1" />
<line x1="461.2" y1="99.4" x2="461.2" y2="101.8" stroke="#222" stroke-width="1" />
<text x="461.2" y="112.2" font-size="7.6" fill="#222" stroke="#222" stroke-width="0.22" text-anchor="middle" font-style="normal" font-weight="normal" >10</text>
<line x1="475.5" y1="99.4" x2="475.5" y2="101.8" stroke="#222" stroke-width="1" />
<text x="475.5" y="112.2" font-size="7.6" fill="#222" stroke="#222" stroke-width="0.22" text-anchor="middle" font-style="normal" font-weight="normal" >20</text>
<line x1="489.9" y1="99.4" x2="489.9" y2="101.8" stroke="#222" stroke-width="1" />
<text x="489.9" y="112.2" font-size="7.6" fill="#222" stroke="#222" stroke-width="0.22" text-anchor="middle" font-style="normal" font-weight="normal" >30</text>
<line x1="504.3" y1="99.4" x2="504.3" y2="101.8" stroke="#222" stroke-width="1" />
<text x="504.3" y="112.2" font-size="7.6" fill="#222" stroke="#222" stroke-width="0.22" text-anchor="middle" font-style="normal" font-weight="normal" >40</text>
<text x="459.2" y="141.0" font-size="8.4" fill="#1a1a1a" stroke="#1a1a1a" stroke-width="0.22" text-anchor="start" font-style="normal" font-weight="normal" ><tspan font-style="italic">Eng</tspan> FPKM</text>
<rect x="447.00" y="153.20" width="18.40" height="19.50" fill="#c8c8c8" />
<rect x="447.00" y="181.50" width="40.90" height="19.70" fill="#7595d2" />
<line x1="465.4" y1="162.7" x2="466.5" y2="162.7" stroke="#222" stroke-width="1" />
<line x1="466.2" y1="160.8" x2="466.2" y2="164.6" stroke="#222" stroke-width="1" />
<line x1="487.9" y1="191.2" x2="497" y2="191.2" stroke="#222" stroke-width="1.1" />
<line x1="497" y1="187.5" x2="497" y2="195.7" stroke="#222" stroke-width="1.1" />
<line x1="447" y1="148.3" x2="447" y2="206.3" stroke="#222" stroke-width="1.1" />
<line x1="446.5" y1="205.8" x2="511" y2="205.8" stroke="#222" stroke-width="1.1" />
<line x1="444" y1="162.7" x2="447" y2="162.7" stroke="#222" stroke-width="1" />
<line x1="444" y1="191.2" x2="447" y2="191.2" stroke="#222" stroke-width="1" />
<line x1="467.1" y1="205.8" x2="467.1" y2="208.2" stroke="#222" stroke-width="1" />
<text x="467.1" y="219.3" font-size="7.6" fill="#222" stroke="#222" stroke-width="0.22" text-anchor="middle" font-style="normal" font-weight="normal" >5</text>
<line x1="487.9" y1="205.8" x2="487.9" y2="208.2" stroke="#222" stroke-width="1" />
<text x="487.9" y="219.3" font-size="7.6" fill="#222" stroke="#222" stroke-width="0.22" text-anchor="middle" font-style="normal" font-weight="normal" >10</text>
<line x1="508.5" y1="205.8" x2="508.5" y2="208.2" stroke="#222" stroke-width="1" />
<text x="508.5" y="219.3" font-size="7.6" fill="#222" stroke="#222" stroke-width="0.22" text-anchor="middle" font-style="normal" font-weight="normal" >15</text>
<text x="7.0" y="251.6" font-size="12.4" fill="#111" stroke="#111" stroke-width="0.132" text-anchor="start" font-style="normal" font-weight="bold" >B</text>
<text x="19.6" y="283.2" font-size="10" fill="#111" stroke="#111" stroke-width="0.132" text-anchor="start" font-style="normal" font-weight="bold" >i</text>
<text x="123.4" y="283.4" font-size="10" fill="#111" stroke="#111" stroke-width="0.132" text-anchor="start" font-style="normal" font-weight="bold" >ii</text>
<text x="136.6" y="265.1" font-size="8.84" fill="#1a1a1a" stroke="#1a1a1a" stroke-width="0.22" text-anchor="start" font-style="italic" font-weight="normal" >Eng-8/P/LacZ/+7/+9</text>
<line x1="33.6" y1="268.4" x2="317.8" y2="268.4" stroke="#111" stroke-width="1.1" />
<text x="121.0" y="295.9" font-size="9.41" fill="#1a1a1a" stroke="#1a1a1a" stroke-width="0.22" text-anchor="start" font-style="normal" font-weight="normal" >Genes associated with hemangioblast function</text>
<rect x="32.80" y="289.80" width="22.50" height="2.05" fill="#dcdcdf" />
<rect x="32.80" y="291.80" width="22.50" height="1.55" fill="#ded7d3" />
<rect x="32.80" y="293.30" width="22.50" height="2.05" fill="#d1d9e2" />
<rect x="32.80" y="295.30" width="22.50" height="2.05" fill="#dadadc" />
<rect x="32.80" y="297.30" width="22.50" height="3.05" fill="#ced5e0" />
<rect x="32.80" y="300.30" width="22.50" height="2.05" fill="#dbdcde" />
<rect x="32.80" y="302.30" width="22.50" height="3.05" fill="#d1d9e4" />
<rect x="32.80" y="305.30" width="22.50" height="1.05" fill="#d7d8da" />
<rect x="32.80" y="306.30" width="22.50" height="4.05" fill="#cdd5df" />
<rect x="32.80" y="310.30" width="22.50" height="3.05" fill="#cfd6e1" />
<rect x="32.80" y="313.30" width="22.50" height="2.05" fill="#d9dbdc" />
<rect x="32.80" y="315.30" width="22.50" height="2.05" fill="#dcdcde" />
<rect x="32.80" y="317.30" width="22.50" height="1.05" fill="#d0d8e1" />
<rect x="32.80" y="318.30" width="22.50" height="3.05" fill="#dfd8d5" />
<rect x="32.80" y="321.30" width="22.50" height="2.05" fill="#d7d8d9" />
<rect x="32.80" y="323.30" width="22.50" height="1.05" fill="#ded6d3" />
<rect x="32.80" y="324.30" width="22.50" height="1.55" fill="#ddd4d2" />
<rect x="32.80" y="325.80" width="22.50" height="1.05" fill="#cfd5e0" />
<rect x="32.80" y="326.80" width="22.50" height="3.05" fill="#dcdddf" />
<rect x="32.80" y="329.80" width="22.50" height="1.55" fill="#d7d9db" />
<rect x="32.80" y="331.30" width="22.50" height="1.55" fill="#dbdedf" />
<rect x="32.80" y="332.80" width="22.50" height="3.05" fill="#cdd5df" />
<rect x="32.80" y="335.80" width="22.50" height="3.05" fill="#d8d9da" />
<rect x="32.80" y="338.80" width="22.50" height="1.55" fill="#dbdddf" />
<rect x="32.80" y="340.30" width="22.50" height="3.05" fill="#d9d8da" />
<rect x="32.80" y="343.30" width="22.50" height="2.05" fill="#d7d8db" />
<rect x="32.80" y="345.30" width="22.50" height="1.55" fill="#ced5e0" />
<rect x="32.80" y="346.80" width="22.50" height="3.05" fill="#d6d7db" />
<rect x="32.80" y="349.80" width="22.50" height="3.05" fill="#d6d6d8" />
<rect x="32.80" y="352.80" width="22.50" height="2.05" fill="#dbdddf" />
<rect x="32.80" y="354.80" width="22.50" height="3.05" fill="#d8d7d9" />
<rect x="32.80" y="357.80" width="22.50" height="2.05" fill="#dbdddf" />
<rect x="32.80" y="359.80" width="22.50" height="3.05" fill="#d1d8e2" />
<rect x="32.80" y="362.80" width="22.50" height="1.05" fill="#dddddf" />
<rect x="32.80" y="363.80" width="22.50" height="3.05" fill="#d9dadc" />
<rect x="32.80" y="366.80" width="22.50" height="1.05" fill="#d1d8e3" />
<rect x="55.30" y="289.80" width="22.40" height="2.05" fill="#dcdcdb" />
<rect x="55.30" y="291.80" width="22.40" height="1.55" fill="#d9d9d9" />
<rect x="55.30" y="293.30" width="22.40" height="2.05" fill="#d9d8d9" />
<rect x="55.30" y="295.30" width="22.40" height="4.05" fill="#dedcdd" />
<rect x="55.30" y="299.30" width="22.40" height="2.05" fill="#ded7d3" />
<rect x="55.30" y="301.30" width="22.40" height="1.05" fill="#d9d9d8" />
<rect x="55.30" y="302.30" width="22.40" height="1.55" fill="#dadada" />
<rect x="55.30" y="303.80" width="22.40" height="4.05" fill="#dad9da" />
<rect x="55.30" y="307.80" width="22.40" height="1.05" fill="#d9d9d9" />
<rect x="55.30" y="308.80" width="22.40" height="3.05" fill="#dfd8d5" />
<rect x="55.30" y="311.80" width="22.40" height="1.55" fill="#dddcdd" />
<rect x="55.30" y="313.30" width="22.40" height="3.05" fill="#dedcdd" />
<rect x="55.30" y="316.30" width="22.40" height="1.55" fill="#dddbdb" />
<rect x="55.30" y="317.80" width="22.40" height="4.05" fill="#dcdbdc" />
<rect x="55.30" y="321.80" width="22.40" height="2.05" fill="#dcdbdc" />
<rect x="55.30" y="323.80" width="22.40" height="2.05" fill="#e0d9d5" />
<rect x="55.30" y="325.80" width="22.40" height="3.05" fill="#dcdada" />
<rect x="55.30" y="328.80" width="22.40" height="1.55" fill="#d5dbe3" />
<rect x="55.30" y="330.30" width="22.40" height="1.55" fill="#dfdddd" />
<rect x="55.30" y="331.80" width="22.40" height="2.05" fill="#dbdbda" />
<rect x="55.30" y="333.80" width="22.40" height="2.05" fill="#dddbdc" />
<rect x="55.30" y="335.80" width="22.40" height="1.05" fill="#d8d8d8" />
<rect x="55.30" y="336.80" width="22.40" height="2.05" fill="#e1d9d6" />
<rect x="55.30" y="338.80" width="22.40" height="2.05" fill="#dddbdb" />
<rect x="55.30" y="340.80" width="22.40" height="4.05" fill="#dcdcdb" />
<rect x="55.30" y="344.80" width="22.40" height="2.05" fill="#dedddc" />
<rect x="55.30" y="346.80" width="22.40" height="1.55" fill="#dbdada" />
<rect x="55.30" y="348.30" width="22.40" height="3.05" fill="#d1d6e2" />
<rect x="55.30" y="351.30" width="22.40" height="3.05" fill="#dbdbda" />
<rect x="55.30" y="354.30" width="22.40" height="3.05" fill="#dedcdc" />
<rect x="55.30" y="357.30" width="22.40" height="2.05" fill="#e0d8d6" />
<rect x="55.30" y="359.30" width="22.40" height="2.05" fill="#d1d7e2" />
<rect x="55.30" y="361.30" width="22.40" height="1.05" fill="#cfd6e0" />
<rect x="55.30" y="362.30" width="22.40" height="1.55" fill="#d9d7d8" />
<rect x="55.30" y="363.80" width="22.40" height="2.05" fill="#dddadb" />
<rect x="55.30" y="365.80" width="22.40" height="2.05" fill="#d8d8d8" />
<rect x="77.70" y="289.80" width="21.90" height="3.05" fill="#a4bed4" />
<rect x="77.70" y="292.80" width="21.90" height="3.05" fill="#a6c0d7" />
<rect x="77.70" y="295.80" width="21.90" height="1.55" fill="#a5bfd4" />
<rect x="77.70" y="297.30" width="21.90" height="1.55" fill="#a9c1d6" />
<rect x="77.70" y="298.80" width="21.90" height="3.05" fill="#b6c9d9" />
<rect x="77.70" y="301.80" width="21.90" height="1.55" fill="#b8cadc" />
<rect x="77.70" y="303.30" width="21.90" height="3.05" fill="#b8cadb" />
<rect x="77.70" y="306.30" width="21.90" height="1.05" fill="#aec6da" />
<rect x="77.70" y="307.30" width="21.90" height="1.55" fill="#bfcfdd" />
<rect x="77.70" y="308.80" width="21.90" height="1.05" fill="#b6c8d9" />
<rect x="77.70" y="309.80" width="21.90" height="2.05" fill="#c0d0dd" />
<rect x="77.70" y="311.80" width="21.90" height="3.05" fill="#aac2d6" />
<rect x="77.70" y="314.80" width="21.90" height="1.55" fill="#b6c8d9" />
<rect x="77.70" y="316.30" width="21.90" height="4.05" fill="#bacdde" />
<rect x="77.70" y="320.30" width="21.90" height="3.05" fill="#b8cada" />
<rect x="77.70" y="323.30" width="21.90" height="3.05" fill="#bacedf" />
<rect x="77.70" y="326.30" width="21.90" height="3.05" fill="#bfcfdd" />
<rect x="77.70" y="329.30" width="21.90" height="4.05" fill="#bfd0de" />
<rect x="77.70" y="333.30" width="21.90" height="3.05" fill="#acc2d6" />
<rect x="77.70" y="336.30" width="21.90" height="2.05" fill="#b8ccdc" />
<rect x="77.70" y="338.30" width="21.90" height="3.05" fill="#acc3d7" />
<rect x="77.70" y="341.30" width="21.90" height="1.55" fill="#bfcfdd" />
<rect x="77.70" y="342.80" width="21.90" height="1.05" fill="#becfdc" />
<rect x="77.70" y="343.80" width="21.90" height="3.05" fill="#bbcfde" />
<rect x="77.70" y="346.80" width="21.90" height="3.05" fill="#bbcfdf" />
<rect x="77.70" y="349.80" width="21.90" height="1.55" fill="#b8cbdc" />
<rect x="77.70" y="351.30" width="21.90" height="2.05" fill="#c0d0df" />
<rect x="77.70" y="353.30" width="21.90" height="3.05" fill="#b9cbde" />
<rect x="77.70" y="356.30" width="21.90" height="3.05" fill="#aac2d7" />
<rect x="77.70" y="359.30" width="21.90" height="3.05" fill="#c1d0df" />
<rect x="77.70" y="362.30" width="21.90" height="1.55" fill="#c1cfde" />
<rect x="77.70" y="363.80" width="21.90" height="4.05" fill="#b9cbdc" />
<rect x="32.80" y="367.80" width="22.50" height="1.55" fill="#e6deda" />
<rect x="55.30" y="367.80" width="22.40" height="1.55" fill="#e6deda" />
<rect x="77.70" y="367.80" width="21.90" height="1.55" fill="#d5e0e8" />
<rect x="32.80" y="369.30" width="22.50" height="4.05" fill="#e0d9d5" />
<rect x="55.30" y="369.30" width="22.40" height="4.05" fill="#e2dad7" />
<rect x="77.70" y="369.30" width="21.90" height="4.05" fill="#d2dde5" />
<rect x="32.80" y="373.30" width="22.50" height="4.05" fill="#e6deda" />
<rect x="55.30" y="373.30" width="22.40" height="4.05" fill="#e4dcd8" />
<rect x="77.70" y="373.30" width="21.90" height="4.05" fill="#e7dfdc" />
<rect x="32.80" y="377.30" width="22.50" height="3.05" fill="#ddd5d3" />
<rect x="55.30" y="377.30" width="22.40" height="3.05" fill="#e0d7d6" />
<rect x="77.70" y="377.30" width="21.90" height="3.05" fill="#e0d7d6" />
<rect x="32.80" y="380.30" width="22.50" height="3.05" fill="#e2dad5" />
<rect x="55.30" y="380.30" width="22.40" height="3.05" fill="#e3dbd6" />
<rect x="77.70" y="380.30" width="21.90" height="3.05" fill="#e1dad5" />
<rect x="32.80" y="383.30" width="22.50" height="1.55" fill="#ded7d4" />
<rect x="55.30" y="383.30" width="22.40" height="1.55" fill="#dfd7d5" />
<rect x="77.70" y="383.30" width="21.90" height="1.55" fill="#dcd5d3" />
<rect x="32.80" y="384.80" width="22.50" height="2.05" fill="#e1d9d5" />
<rect x="55.30" y="384.80" width="22.40" height="2.05" fill="#e1d9d6" />
<rect x="77.70" y="384.80" width="21.90" height="2.05" fill="#e2dbd7" />
<rect x="32.80" y="386.80" width="22.50" height="3.05" fill="#e8e1dd" />
<rect x="55.30" y="386.80" width="22.40" height="3.05" fill="#e7e0dd" />
<rect x="77.70" y="386.80" width="21.90" height="3.05" fill="#e9e3de" />
<rect x="32.80" y="389.80" width="22.50" height="3.05" fill="#e3dbd8" />
<rect x="55.30" y="389.80" width="22.40" height="3.05" fill="#e3dbd8" />
<rect x="77.70" y="389.80" width="21.90" height="3.05" fill="#e2dbd6" />
<rect x="32.80" y="392.80" width="22.50" height="3.05" fill="#d6ccc8" />
<rect x="55.30" y="392.80" width="22.40" height="3.05" fill="#d5cbc6" />
<rect x="77.70" y="392.80" width="21.90" height="3.05" fill="#d6cdc9" />
<rect x="32.80" y="395.80" width="22.50" height="4.05" fill="#d0c6c2" />
<rect x="55.30" y="395.80" width="22.40" height="4.05" fill="#d0c5c1" />
<rect x="77.70" y="395.80" width="21.90" height="4.05" fill="#d0c5c2" />
<rect x="32.80" y="399.80" width="22.50" height="1.55" fill="#d6cdca" />
<rect x="55.30" y="399.80" width="22.40" height="1.55" fill="#d3cbca" />
<rect x="77.70" y="399.80" width="21.90" height="1.55" fill="#d2c9c8" />
<rect x="32.80" y="401.30" width="22.50" height="3.05" fill="#cfc5c1" />
<rect x="55.30" y="401.30" width="22.40" height="3.05" fill="#cfc5c1" />
<rect x="77.70" y="401.30" width="21.90" height="3.05" fill="#d2c8c3" />
<rect x="32.80" y="404.30" width="22.50" height="2.05" fill="#e0d7d4" />
<rect x="55.30" y="404.30" width="22.40" height="2.05" fill="#dfd7d3" />
<rect x="77.70" y="404.30" width="21.90" height="2.05" fill="#ded6d2" />
<rect x="32.80" y="406.30" width="22.50" height="3.05" fill="#dfd8d4" />
<rect x="55.30" y="406.30" width="22.40" height="3.05" fill="#dfd7d3" />
<rect x="77.70" y="406.30" width="21.90" height="3.05" fill="#ded7d2" />
<rect x="32.80" y="409.30" width="22.50" height="0.75" fill="#d7cdc9" />
<rect x="55.30" y="409.30" width="22.40" height="0.75" fill="#d8ceca" />
<rect x="77.70" y="409.30" width="21.90" height="0.75" fill="#d7ceca" />
<rect x="32.80" y="410.00" width="22.50" height="4.85" fill="#d6ccc6" />
<rect x="55.30" y="410.00" width="22.40" height="4.85" fill="#d6cec8" />
<rect x="77.70" y="410.00" width="21.90" height="4.85" fill="#d4ccc6" />
<rect x="32.80" y="414.80" width="22.50" height="3.65" fill="#e2d6d0" />
<rect x="55.30" y="414.80" width="22.40" height="3.65" fill="#e4dedc" />
<rect x="77.70" y="414.80" width="21.90" height="3.65" fill="#e4d0c4" />
<rect x="32.80" y="418.40" width="22.50" height="1.25" fill="#b85854" />
<rect x="55.30" y="418.40" width="22.40" height="1.25" fill="#e8e2e2" />
<rect x="77.70" y="418.40" width="21.90" height="1.25" fill="#ecc4aa" />
<rect x="32.80" y="419.60" width="22.50" height="3.85" fill="#ecc8be" />
<rect x="55.30" y="419.60" width="22.40" height="3.85" fill="#d4e2e4" />
<rect x="77.70" y="419.60" width="21.90" height="3.85" fill="#eec8b0" />
<rect x="32.80" y="423.40" width="22.50" height="3.05" fill="#e8d4c8" />
<rect x="55.30" y="423.40" width="22.40" height="3.05" fill="#e6dedc" />
<rect x="77.70" y="423.40" width="21.90" height="3.05" fill="#eccebe" />
<rect x="32.80" y="426.40" width="22.50" height="1.65" fill="#eacec4" />
<rect x="55.30" y="426.40" width="22.40" height="1.65" fill="#ead6d4" />
<rect x="77.70" y="426.40" width="21.90" height="1.65" fill="#ecc6b0" />
<rect x="32.80" y="428.00" width="22.50" height="1.25" fill="#c44848" />
<rect x="55.30" y="428.00" width="22.40" height="1.25" fill="#ecc4c4" />
<rect x="77.70" y="428.00" width="21.90" height="1.25" fill="#ecc4ac" />
<rect x="32.80" y="429.20" width="22.50" height="3.75" fill="#e8d4cc" />
<rect x="55.30" y="429.20" width="22.40" height="3.75" fill="#d6e4e6" />
<rect x="77.70" y="429.20" width="21.90" height="3.75" fill="#ecc8b4" />
<rect x="32.80" y="432.90" width="22.50" height="4.85" fill="#ecd0c4" />
<rect x="55.30" y="432.90" width="22.40" height="4.85" fill="#ecd4cc" />
<rect x="77.70" y="432.90" width="21.90" height="4.85" fill="#f0d2c4" />
<rect x="32.80" y="437.70" width="22.50" height="2.75" fill="#ecbeb0" />
<rect x="55.30" y="437.70" width="22.40" height="2.75" fill="#e4aa96" />
<rect x="77.70" y="437.70" width="21.90" height="2.75" fill="#ecbeaa" />
<rect x="32.80" y="440.40" width="22.50" height="1.45" fill="#c84650" />
<rect x="55.30" y="440.40" width="22.40" height="1.45" fill="#e8b4a0" />
<rect x="77.70" y="440.40" width="21.90" height="1.45" fill="#eab8a4" />
<rect x="32.80" y="441.80" width="22.50" height="3.05" fill="#f0dcd8" />
<rect x="55.30" y="441.80" width="22.40" height="3.05" fill="#c44848" />
<rect x="77.70" y="441.80" width="21.90" height="3.05" fill="#dca08c" />
<rect x="32.80" y="444.80" width="22.50" height="2.85" fill="#dc968c" />
<rect x="55.30" y="444.80" width="22.40" height="2.85" fill="#de8c78" />
<rect x="77.70" y="444.80" width="21.90" height="2.85" fill="#dea08c" />
<rect x="32.80" y="447.60" width="22.50" height="1.85" fill="#a07078" />
<rect x="55.30" y="447.60" width="22.40" height="1.85" fill="#ac2828" />
<rect x="77.70" y="447.60" width="21.90" height="1.85" fill="#c86e64" />
<rect x="32.80" y="307.60" width="22.50" height="1.10" fill="#708eb6" />
<rect x="32.80" y="304.20" width="22.50" height="2.00" fill="#cedae4" />
<rect x="32.80" y="320.10" width="22.50" height="1.10" fill="#c07c74" />
<rect x="55.30" y="324.70" width="22.40" height="1.10" fill="#96b2ce" />
<rect x="32.80" y="329.30" width="22.50" height="1.10" fill="#dec8be" />
<rect x="55.30" y="345.60" width="22.40" height="1.10" fill="#c49488" />
<rect x="55.30" y="353.80" width="22.40" height="1.10" fill="#7084a8" />
<rect x="55.30" y="360.00" width="22.40" height="1.10" fill="#6e88b0" />
<rect x="32.80" y="361.00" width="22.50" height="2.50" fill="#c4d6e4" />
<rect x="32.80" y="365.20" width="22.50" height="2.60" fill="#b0c6dc" />
<rect x="55.30" y="365.20" width="22.40" height="2.60" fill="#cedae4" />
<rect x="77.70" y="365.20" width="21.90" height="2.60" fill="#acc6dc" />
<rect x="77.70" y="330.50" width="21.90" height="1.20" fill="#a0bad2" />
<rect x="77.70" y="338.60" width="21.90" height="1.20" fill="#a0bad2" />
<rect x="77.70" y="349.00" width="21.90" height="1.20" fill="#9eb8d0" />
<rect x="77.70" y="354.20" width="21.90" height="1.20" fill="#96b0cc" />
<rect x="77.70" y="360.00" width="21.90" height="1.20" fill="#96b0cc" />
<line x1="30.9" y1="290" x2="30.9" y2="368.6" stroke="#333" stroke-width="1.5" />
<line x1="30.9" y1="371.4" x2="30.9" y2="447.9" stroke="#333" stroke-width="1.5" />
<text x="0" y="0" font-size="8.2" fill="#1a1a1a" stroke="#1a1a1a" stroke-width="0.22" text-anchor="middle" font-style="normal" font-weight="normal" transform="translate(25.9,330.0) rotate(-90)">F+/L-</text>
<text x="0" y="0" font-size="8.2" fill="#1a1a1a" stroke="#1a1a1a" stroke-width="0.22" text-anchor="middle" font-style="normal" font-weight="normal" transform="translate(25.9,403.3) rotate(-90)">F+/L+</text>
<text x="38.2" y="459.0" font-size="8.5" fill="#1a1a1a" stroke="#1a1a1a" stroke-width="0.22" text-anchor="start" font-style="normal" font-weight="normal" >E1</text>
<text x="60.1" y="459.0" font-size="8.5" fill="#1a1a1a" stroke="#1a1a1a" stroke-width="0.22" text-anchor="start" font-style="normal" font-weight="normal" >E2</text>
<text x="84.9" y="459.0" font-size="8.5" fill="#1a1a1a" stroke="#1a1a1a" stroke-width="0.22" text-anchor="start" font-style="normal" font-weight="normal" >E3</text>
<defs><linearGradient id="cb" x1="0" y1="0" x2="0" y2="1"><stop offset="0" stop-color="#6a0f1e"/><stop offset="0.12" stop-color="#a8222c"/><stop offset="0.26" stop-color="#d6604d"/><stop offset="0.38" stop-color="#f4b89a"/><stop offset="0.48" stop-color="#fbf0ea"/><stop offset="0.54" stop-color="#f4f6f8"/><stop offset="0.64" stop-color="#b8d4e8"/><stop offset="0.78" stop-color="#5a92c4"/><stop offset="0.9" stop-color="#2a5c9c"/><stop offset="1" stop-color="#1a3068"/></linearGradient></defs>
<rect x="102.80" y="299.20" width="3.70" height="49.00" fill="url(#cb)" />
<text x="113.6" y="303.7" font-size="6.6" fill="#1a1a1a" stroke="#1a1a1a" stroke-width="0.132" text-anchor="end" font-style="normal" font-weight="bold" >4</text>
<text x="113.6" y="316.0" font-size="6.6" fill="#1a1a1a" stroke="#1a1a1a" stroke-width="0.132" text-anchor="end" font-style="normal" font-weight="bold" >2</text>
<text x="113.6" y="325.1" font-size="6.6" fill="#1a1a1a" stroke="#1a1a1a" stroke-width="0.132" text-anchor="end" font-style="normal" font-weight="bold" >0</text>
<text x="113.6" y="336.0" font-size="6.6" fill="#1a1a1a" stroke="#1a1a1a" stroke-width="0.132" text-anchor="end" font-style="normal" font-weight="bold" >-2</text>
<text x="113.6" y="347.40000000000003" font-size="6.6" fill="#1a1a1a" stroke="#1a1a1a" stroke-width="0.132" text-anchor="end" font-style="normal" font-weight="bold" >-4</text>
<rect x="135.80" y="310.00" width="18.60" height="13.07" fill="#2a55a0" />
<rect x="154.40" y="310.00" width="18.40" height="13.07" fill="#e6d8c2" />
<text x="174.6" y="318.9" font-size="9.0" fill="#1a1a1a" stroke="#1a1a1a" stroke-width="0.22" text-anchor="start" font-style="italic" font-weight="normal" >CD34</text>
<rect x="135.80" y="323.02" width="18.60" height="13.07" fill="#e4dccc" />
<rect x="154.40" y="323.02" width="18.40" height="13.07" fill="#c85050" />
<text x="174.6" y="331.96999999999997" font-size="9.0" fill="#1a1a1a" stroke="#1a1a1a" stroke-width="0.22" text-anchor="start" font-style="italic" font-weight="normal" >Hoxb5</text>
<rect x="135.80" y="336.04" width="18.60" height="13.07" fill="#e4dccc" />
<rect x="154.40" y="336.04" width="18.40" height="13.07" fill="#c85252" />
<text x="174.6" y="345.03999999999996" font-size="9.0" fill="#1a1a1a" stroke="#1a1a1a" stroke-width="0.22" text-anchor="start" font-style="italic" font-weight="normal" >Flil</text>
<rect x="135.80" y="349.06" width="18.60" height="13.07" fill="#c4c8c8" />
<rect x="154.40" y="349.06" width="18.40" height="13.07" fill="#c85050" />
<text x="174.6" y="358.10999999999996" font-size="9.0" fill="#1a1a1a" stroke="#1a1a1a" stroke-width="0.22" text-anchor="start" font-style="italic" font-weight="normal" >Sox18</text>
<rect x="135.80" y="362.08" width="18.60" height="13.07" fill="#e4dccc" />
<rect x="154.40" y="362.08" width="18.40" height="13.07" fill="#c95a58" />
<text x="174.6" y="371.17999999999995" font-size="9.0" fill="#1a1a1a" stroke="#1a1a1a" stroke-width="0.22" text-anchor="start" font-style="italic" font-weight="normal" >Sox7</text>
<rect x="135.80" y="375.10" width="18.60" height="13.07" fill="#d8d8cc" />
<rect x="154.40" y="375.10" width="18.40" height="13.07" fill="#c04848" />
<text x="174.6" y="384.25" font-size="9.0" fill="#1a1a1a" stroke="#1a1a1a" stroke-width="0.22" text-anchor="start" font-style="italic" font-weight="normal" >Cdh5</text>
<rect x="135.80" y="388.12" width="18.60" height="13.07" fill="#98a8bc" />
<rect x="154.40" y="388.12" width="18.40" height="13.07" fill="#d0a8a0" />
<text x="174.6" y="397.32" font-size="9.0" fill="#1a1a1a" stroke="#1a1a1a" stroke-width="0.22" text-anchor="start" font-style="italic" font-weight="normal" >Pecam1</text>
<rect x="135.80" y="401.14" width="18.60" height="13.07" fill="#8098b8" />
<rect x="154.40" y="401.14" width="18.40" height="13.07" fill="#e0d4c4" />
<text x="174.6" y="410.39" font-size="9.0" fill="#1a1a1a" stroke="#1a1a1a" stroke-width="0.22" text-anchor="start" font-style="italic" font-weight="normal" >Esam</text>
<rect x="135.80" y="414.16" width="18.60" height="13.07" fill="#d08078" />
<rect x="154.40" y="414.16" width="18.40" height="13.07" fill="#c04848" />
<text x="174.6" y="423.46" font-size="9.0" fill="#1a1a1a" stroke="#1a1a1a" stroke-width="0.22" text-anchor="start" font-style="italic" font-weight="normal" >Flt4</text>
<rect x="135.80" y="427.18" width="18.60" height="13.07" fill="#c8c8c4" />
<rect x="154.40" y="427.18" width="18.40" height="13.07" fill="#d8c0b8" />
<text x="174.6" y="436.53" font-size="9.0" fill="#1a1a1a" stroke="#1a1a1a" stroke-width="0.22" text-anchor="start" font-style="italic" font-weight="normal" >Tek</text>
<rect x="236.10" y="309.60" width="17.70" height="13.11" fill="#6a84b8" />
<rect x="253.80" y="309.60" width="18.20" height="13.11" fill="#7088b8" />
<text x="276.2" y="317.1" font-size="9.0" fill="#1a1a1a" stroke="#1a1a1a" stroke-width="0.22" text-anchor="start" font-style="italic" font-weight="normal" >Gata1</text>
<rect x="236.10" y="322.66" width="17.70" height="13.11" fill="#7088b8" />
<rect x="253.80" y="322.66" width="18.20" height="13.11" fill="#7c90bc" />
<text x="276.2" y="330.56" font-size="9.0" fill="#1a1a1a" stroke="#1a1a1a" stroke-width="0.22" text-anchor="start" font-style="italic" font-weight="normal" >Sox17</text>
<rect x="236.10" y="335.72" width="17.70" height="13.11" fill="#2c55a0" />
<rect x="253.80" y="335.72" width="18.20" height="13.11" fill="#2e57a0" />
<text x="276.2" y="344.02000000000004" font-size="9.0" fill="#1a1a1a" stroke="#1a1a1a" stroke-width="0.22" text-anchor="start" font-style="italic" font-weight="normal" >FoxC2</text>
<rect x="236.10" y="348.78" width="17.70" height="13.11" fill="#a8b4b8" />
<rect x="253.80" y="348.78" width="18.20" height="13.11" fill="#a8b4bc" />
<text x="276.2" y="357.48" font-size="9.0" fill="#1a1a1a" stroke="#1a1a1a" stroke-width="0.22" text-anchor="start" font-style="italic" font-weight="normal" >Notch1</text>
<rect x="236.10" y="361.84" width="17.70" height="13.11" fill="#e4dcc8" />
<rect x="253.80" y="361.84" width="18.20" height="13.11" fill="#e4dcc8" />
<text x="276.2" y="370.94000000000005" font-size="9.0" fill="#1a1a1a" stroke="#1a1a1a" stroke-width="0.22" text-anchor="start" font-style="italic" font-weight="normal" >Gata2</text>
<rect x="236.10" y="374.90" width="17.70" height="13.11" fill="#e0dcc8" />
<rect x="253.80" y="374.90" width="18.20" height="13.11" fill="#e0dac8" />
<text x="276.2" y="384.40000000000003" font-size="9.0" fill="#1a1a1a" stroke="#1a1a1a" stroke-width="0.22" text-anchor="start" font-style="italic" font-weight="normal" >Tal 1</text>
<rect x="236.10" y="387.96" width="17.70" height="13.11" fill="#c45058" />
<rect x="253.80" y="387.96" width="18.20" height="13.11" fill="#c86060" />
<text x="276.2" y="397.86" font-size="9.0" fill="#1a1a1a" stroke="#1a1a1a" stroke-width="0.22" text-anchor="start" font-style="italic" font-weight="normal" >Bmp4</text>
<rect x="236.10" y="401.02" width="17.70" height="13.11" fill="#c87478" />
<rect x="253.80" y="401.02" width="18.20" height="13.11" fill="#cc8080" />
<text x="276.2" y="411.32000000000005" font-size="9.0" fill="#1a1a1a" stroke="#1a1a1a" stroke-width="0.22" text-anchor="start" font-style="italic" font-weight="normal" >Bry</text>
<rect x="236.10" y="414.08" width="17.70" height="13.11" fill="#c87478" />
<rect x="253.80" y="414.08" width="18.20" height="13.11" fill="#d09088" />
<text x="276.2" y="424.78000000000003" font-size="9.0" fill="#1a1a1a" stroke="#1a1a1a" stroke-width="0.22" text-anchor="start" font-style="italic" font-weight="normal" >Etv2</text>
<rect x="236.10" y="427.14" width="17.70" height="13.11" fill="#d4b2a4" />
<rect x="253.80" y="427.14" width="18.20" height="13.11" fill="#d8b8ac" />
<text x="276.2" y="438.24" font-size="9.0" fill="#1a1a1a" stroke="#1a1a1a" stroke-width="0.22" text-anchor="start" font-style="italic" font-weight="normal" >Ldb1</text>
<text x="140.5" y="308.7" font-size="8.0" fill="#1a1a1a" stroke="#1a1a1a" stroke-width="0.22" text-anchor="start" font-style="normal" font-weight="normal" >FPKMs</text>
<text x="239.3" y="308.7" font-size="8.0" fill="#1a1a1a" stroke="#1a1a1a" stroke-width="0.22" text-anchor="start" font-style="normal" font-weight="normal" >FPKMs</text>
<line x1="133.7" y1="310" x2="133.7" y2="440.5" stroke="#333" stroke-width="1.4" />
<line x1="232.7" y1="309.6" x2="232.7" y2="440.3" stroke="#222" stroke-width="1.3" />
<text x="0" y="0" font-size="8.7" fill="#1a1a1a" stroke="#1a1a1a" stroke-width="0.22" text-anchor="middle" font-style="normal" font-weight="normal" transform="translate(127.6,373.2) rotate(-90)">DEGs</text>
<text x="0" y="0" font-size="8.9" fill="#1a1a1a" stroke="#1a1a1a" stroke-width="0.22" text-anchor="middle" font-style="normal" font-weight="normal" transform="translate(228.4,376.4) rotate(-90)">Non-DEGs</text>
<text x="0" y="0" font-size="8.8" fill="#1a1a1a" stroke="#1a1a1a" stroke-width="0.22" text-anchor="end" font-style="normal" font-weight="normal" transform="translate(149.3,446.6) rotate(-58)">F+/L–</text>
<text x="0" y="0" font-size="8.8" fill="#1a1a1a" stroke="#1a1a1a" stroke-width="0.22" text-anchor="end" font-style="normal" font-weight="normal" transform="translate(167.3,446.6) rotate(-58)">F+/L+</text>
<text x="0" y="0" font-size="8.8" fill="#1a1a1a" stroke="#1a1a1a" stroke-width="0.22" text-anchor="end" font-style="normal" font-weight="normal" transform="translate(250.6,446.6) rotate(-58)">F+/L–</text>
<text x="0" y="0" font-size="8.8" fill="#1a1a1a" stroke="#1a1a1a" stroke-width="0.22" text-anchor="end" font-style="normal" font-weight="normal" transform="translate(268.4,446.4) rotate(-58)">F+/L+</text>
<text x="334.0" y="252.0" font-size="12.4" fill="#111" stroke="#111" stroke-width="0.132" text-anchor="start" font-style="normal" font-weight="bold" >C</text>
<text x="399.8" y="278.1" font-size="10.0" fill="#111" stroke="#111" stroke-width="0.132" text-anchor="start" font-style="italic" font-weight="bold" >Etv2</text>
<text x="423.0" y="275.2" font-size="7.5" fill="#111" stroke="#111" stroke-width="0.132" text-anchor="start" font-style="italic" font-weight="bold" >+/-</text>
<text x="434.8" y="278.1" font-size="10.0" fill="#111" stroke="#111" stroke-width="0.132" text-anchor="start" font-style="normal" font-weight="bold" >vs.</text>
<text x="452.3" y="278.1" font-size="10.0" fill="#111" stroke="#111" stroke-width="0.132" text-anchor="start" font-style="italic" font-weight="bold" >Etv2</text>
<text x="476.2" y="275.2" font-size="7.5" fill="#111" stroke="#111" stroke-width="0.132" text-anchor="start" font-style="italic" font-weight="bold" >-/-</text>
<text x="404.0" y="287.2" font-size="7.8" fill="#333" stroke="#333" stroke-width="0.22" text-anchor="start" font-style="normal" font-weight="normal" >(Katoaka et al., 2011)</text>
<line x1="377.8" y1="295.6" x2="504.2" y2="295.6" stroke="#111" stroke-width="1.1" />
<line x1="504.2" y1="295.6" x2="504.2" y2="344.7" stroke="#111" stroke-width="1.0" />
<line x1="377.8" y1="295.1" x2="377.8" y2="369.6" stroke="#111" stroke-width="1.1" />
<line x1="377.8" y1="344.7" x2="504.2" y2="344.7" stroke="#111" stroke-width="1.4" />
<line x1="377.8" y1="346.8" x2="504.2" y2="346.8" stroke="#111" stroke-width="1.0" />
<line x1="504.2" y1="346.8" x2="504.2" y2="369.1" stroke="#111" stroke-width="1.0" />
<line x1="377.8" y1="369.1" x2="504.2" y2="369.1" stroke="#111" stroke-width="1.1" />
<defs><linearGradient id="rk1" x1="0" y1="0" x2="1" y2="0"><stop offset="0" stop-color="#c02436"/><stop offset="0.132" stop-color="#cc3646"/><stop offset="0.165" stop-color="#dc8aa0"/><stop offset="0.190" stop-color="#eac2d6"/><stop offset="0.55" stop-color="#ebc8dc"/><stop offset="0.72" stop-color="#e6d0e4"/><stop offset="0.8" stop-color="#e2e0f0"/><stop offset="0.906" stop-color="#e8e8f4"/><stop offset="0.914" stop-color="#5454a0"/><stop offset="0.958" stop-color="#4a4a9a"/><stop offset="0.964" stop-color="#f2f2f8"/><stop offset="1" stop-color="#f6f6fa"/></linearGradient></defs>
<rect x="378.30" y="364.80" width="125.40" height="3.80" fill="url(#rk1)" />
<rect x="378.00" y="347.30" width="2.80" height="17.50" fill="#111" />
<rect x="381.00" y="347.30" width="0.90" height="17.50" fill="#777" />
<rect x="382.20" y="347.30" width="1.20" height="17.50" fill="#999" />
<rect x="383.80" y="347.30" width="0.80" height="17.50" fill="#555" />
<rect x="385.00" y="347.30" width="1.00" height="17.50" fill="#888" />
<rect x="386.40" y="347.30" width="0.80" height="17.50" fill="#666" />
<rect x="387.60" y="347.30" width="1.20" height="17.50" fill="#444" />
<rect x="389.20" y="347.30" width="0.80" height="17.50" fill="#999" />
<rect x="390.20" y="347.30" width="1.00" height="17.50" fill="#333" />
<rect x="391.60" y="347.30" width="0.80" height="17.50" fill="#aaa" />
<rect x="393.40" y="347.30" width="1.00" height="17.50" fill="#444" />
<rect x="394.60" y="347.30" width="0.80" height="17.50" fill="#777" />
<rect x="398.20" y="347.30" width="0.90" height="17.50" fill="#777" />
<rect x="399.40" y="347.30" width="0.80" height="17.50" fill="#aaa" />
<rect x="411.90" y="347.30" width="0.80" height="17.50" fill="#888" />
<rect x="420.20" y="347.30" width="0.90" height="17.50" fill="#888" />
<rect x="421.60" y="347.30" width="0.80" height="17.50" fill="#aaa" />
<rect x="422.60" y="347.30" width="0.80" height="17.50" fill="#999" />
<rect x="425.80" y="347.30" width="0.70" height="17.50" fill="#999" />
<rect x="435.80" y="347.30" width="0.90" height="17.50" fill="#444" />
<rect x="443.40" y="347.30" width="1.00" height="17.50" fill="#777" />
<rect x="444.80" y="347.30" width="0.80" height="17.50" fill="#999" />
<rect x="458.40" y="347.30" width="0.80" height="17.50" fill="#888" />
<rect x="463.60" y="347.30" width="0.80" height="17.50" fill="#999" />
<rect x="467.60" y="347.30" width="0.80" height="17.50" fill="#777" />
<rect x="472.80" y="347.30" width="0.90" height="17.50" fill="#555" />
<rect x="481.40" y="347.30" width="0.80" height="17.50" fill="#888" />
<rect x="485.20" y="347.30" width="0.80" height="17.50" fill="#777" />
<rect x="486.80" y="347.30" width="0.90" height="17.50" fill="#777" />
<rect x="495.80" y="347.30" width="0.90" height="17.50" fill="#555" />
<rect x="497.20" y="347.30" width="0.80" height="17.50" fill="#888" />
<text x="0" y="0" font-size="8.5" fill="#222" stroke="#222" stroke-width="0.22" text-anchor="end" font-style="normal" font-weight="normal" transform="translate(371.20,347.00) scale(1,0.74)">0.0</text>
<line x1="374.2" y1="344.6" x2="377.8" y2="344.6" stroke="#111" stroke-width="0.9" />
<text x="0" y="0" font-size="8.5" fill="#222" stroke="#222" stroke-width="0.22" text-anchor="end" font-style="normal" font-weight="normal" transform="translate(371.20,338.83) scale(1,0.74)">0.1</text>
<line x1="374.2" y1="336.43" x2="377.8" y2="336.43" stroke="#111" stroke-width="0.9" />
<text x="0" y="0" font-size="8.5" fill="#222" stroke="#222" stroke-width="0.22" text-anchor="end" font-style="normal" font-weight="normal" transform="translate(371.20,330.66) scale(1,0.74)">0.2</text>
<line x1="374.2" y1="328.26000000000005" x2="377.8" y2="328.26000000000005" stroke="#111" stroke-width="0.9" />
<text x="0" y="0" font-size="8.5" fill="#222" stroke="#222" stroke-width="0.22" text-anchor="end" font-style="normal" font-weight="normal" transform="translate(371.20,322.49) scale(1,0.74)">0.3</text>
<line x1="374.2" y1="320.09000000000003" x2="377.8" y2="320.09000000000003" stroke="#111" stroke-width="0.9" />
<text x="0" y="0" font-size="8.5" fill="#222" stroke="#222" stroke-width="0.22" text-anchor="end" font-style="normal" font-weight="normal" transform="translate(371.20,314.32) scale(1,0.74)">0.4</text>
<line x1="374.2" y1="311.92" x2="377.8" y2="311.92" stroke="#111" stroke-width="0.9" />
<text x="0" y="0" font-size="8.5" fill="#222" stroke="#222" stroke-width="0.22" text-anchor="end" font-style="normal" font-weight="normal" transform="translate(371.20,306.15) scale(1,0.74)">0.5</text>
<line x1="374.2" y1="303.75" x2="377.8" y2="303.75" stroke="#111" stroke-width="0.9" />
<text x="0" y="0" font-size="8.5" fill="#222" stroke="#222" stroke-width="0.22" text-anchor="end" font-style="normal" font-weight="normal" transform="translate(371.20,297.98) scale(1,0.74)">0.6</text>
<line x1="374.2" y1="295.58000000000004" x2="377.8" y2="295.58000000000004" stroke="#111" stroke-width="0.9" />
<polyline points="377.90,344.60 378.20,343.10 379.00,330.30 380.20,319.00 381.40,312.50 383.90,307.70 386.30,303.70 388.70,300.50 391.10,298.20 393.50,297.70 395.90,298.40 398.30,298.00 400.00,298.90 402.40,300.50 405.60,302.60 408.80,304.50 412.00,306.40 415.30,308.00 418.50,309.60 420.90,310.40 423.30,309.80 425.70,311.00 428.70,311.90 432.50,314.80 435.40,316.20 437.30,315.20 439.20,317.70 443.10,319.20 446.00,319.60 448.80,321.50 452.70,324.40 457.50,327.30 461.30,329.20 465.20,331.20 470.00,334.00 473.80,336.00 477.70,337.90 481.50,339.80 486.30,341.20 490.20,342.30 494.00,343.70 496.90,344.60" fill="none" stroke="#74ae4c" stroke-width="1.05" />
<text x="493.5" y="303.3" font-size="7.75" fill="#222" stroke="#222" stroke-width="0.22" text-anchor="end" font-style="normal" font-weight="normal" >NES=6.89</text>
<text x="493.1" y="314.8" font-size="7.7" fill="#222" stroke="#222" stroke-width="0.22" text-anchor="end" font-style="normal" font-weight="normal" >P&lt;0.001</text>
<text x="381.5" y="342.3" font-size="8.2" fill="#222" stroke="#222" stroke-width="0.22" text-anchor="start" font-style="normal" font-weight="normal" >FLK1<tspan font-size="5" dy="-3">+</tspan><tspan dy="3">/LacZ</tspan><tspan font-size="5" dy="-3">+</tspan></text>
<text x="496.2" y="340.8" font-size="8.2" fill="#222" stroke="#222" stroke-width="0.22" text-anchor="end" font-style="normal" font-weight="normal" >FLK1<tspan font-size="5" dy="-3">+</tspan><tspan dy="3">/LacZ</tspan><tspan font-size="5" dy="-3">-</tspan></text>
<text x="0" y="0" font-size="9.0" fill="#222" stroke="#222" stroke-width="0.22" text-anchor="start" font-style="normal" font-weight="normal" transform="translate(354.0,376.5) rotate(-90)">Enrichment score (ES)</text>
<text x="392.2" y="397.4" font-size="10.0" fill="#111" stroke="#111" stroke-width="0.132" text-anchor="start" font-style="italic" font-weight="bold" >Ldb1</text>
<text x="418.1" y="397.4" font-size="10.0" fill="#111" stroke="#111" stroke-width="0.132" text-anchor="start" font-style="italic" font-weight="bold" >WT</text>
<text x="435.9" y="397.4" font-size="10.0" fill="#111" stroke="#111" stroke-width="0.132" text-anchor="start" font-style="normal" font-weight="bold" >vs.</text>
<text x="453.6" y="397.4" font-size="10.0" fill="#111" stroke="#111" stroke-width="0.132" text-anchor="start" font-style="italic" font-weight="bold" >Ldb1</text>
<text x="476.6" y="394.6" font-size="7.5" fill="#111" stroke="#111" stroke-width="0.132" text-anchor="start" font-style="italic" font-weight="bold" >-/-</text>
<text x="402.5" y="406.7" font-size="7.76" fill="#333" stroke="#333" stroke-width="0.22" text-anchor="start" font-style="normal" font-weight="normal" >(Mylona et al., 2013)</text>
<line x1="378.2" y1="411.7" x2="497.9" y2="411.7" stroke="#111" stroke-width="1.1" />
<line x1="497.9" y1="411.7" x2="497.9" y2="454.0" stroke="#111" stroke-width="1.0" />
<line x1="378.2" y1="411.2" x2="378.2" y2="480.1" stroke="#111" stroke-width="1.1" />
<line x1="378.2" y1="454.0" x2="497.9" y2="454.0" stroke="#111" stroke-width="1.4" />
<line x1="378.2" y1="457.6" x2="497.9" y2="457.6" stroke="#111" stroke-width="1.0" />
<line x1="497.9" y1="457.6" x2="497.9" y2="479.6" stroke="#111" stroke-width="1.0" />
<line x1="378.2" y1="479.6" x2="497.9" y2="479.6" stroke="#111" stroke-width="1.1" />
<defs><linearGradient id="rk2" x1="0" y1="0" x2="1" y2="0"><stop offset="0" stop-color="#c02436"/><stop offset="0.124" stop-color="#cc3646"/><stop offset="0.155" stop-color="#dc8aa0"/><stop offset="0.180" stop-color="#eac2d6"/><stop offset="0.55" stop-color="#ebc8dc"/><stop offset="0.72" stop-color="#e6d0e4"/><stop offset="0.8" stop-color="#e2e0f0"/><stop offset="0.901" stop-color="#e8e8f4"/><stop offset="0.909" stop-color="#5454a0"/><stop offset="0.953" stop-color="#4a4a9a"/><stop offset="0.959" stop-color="#f2f2f8"/><stop offset="1" stop-color="#f6f6fa"/></linearGradient></defs>
<rect x="378.70" y="475.20" width="118.70" height="3.90" fill="url(#rk2)" />
<rect x="378.30" y="458.10" width="2.80" height="17.10" fill="#111" />
<rect x="381.20" y="458.10" width="1.20" height="17.10" fill="#333" />
<rect x="384.10" y="458.10" width="0.90" height="17.10" fill="#666" />
<rect x="386.60" y="458.10" width="0.90" height="17.10" fill="#555" />
<rect x="389.10" y="458.10" width="0.90" height="17.10" fill="#666" />
<rect x="390.90" y="458.10" width="0.90" height="17.10" fill="#777" />
<rect x="393.40" y="458.10" width="0.90" height="17.10" fill="#666" />
<rect x="394.70" y="458.10" width="0.80" height="17.10" fill="#888" />
<rect x="408.40" y="458.10" width="0.90" height="17.10" fill="#333" />
<rect x="412.10" y="458.10" width="0.90" height="17.10" fill="#555" />
<rect x="414.10" y="458.10" width="0.80" height="17.10" fill="#777" />
<rect x="418.40" y="458.10" width="0.90" height="17.10" fill="#666" />
<rect x="422.60" y="458.10" width="0.90" height="17.10" fill="#555" />
<rect x="429.10" y="458.10" width="0.90" height="17.10" fill="#666" />
<rect x="432.60" y="458.10" width="0.80" height="17.10" fill="#888" />
<rect x="435.10" y="458.10" width="0.90" height="17.10" fill="#666" />
<rect x="440.90" y="458.10" width="0.90" height="17.10" fill="#444" />
<rect x="444.60" y="458.10" width="0.90" height="17.10" fill="#666" />
<rect x="449.10" y="458.10" width="0.90" height="17.10" fill="#555" />
<rect x="452.10" y="458.10" width="0.80" height="17.10" fill="#777" />
<rect x="455.90" y="458.10" width="0.90" height="17.10" fill="#666" />
<rect x="463.40" y="458.10" width="0.90" height="17.10" fill="#555" />
<rect x="465.90" y="458.10" width="0.80" height="17.10" fill="#888" />
<rect x="472.10" y="458.10" width="0.90" height="17.10" fill="#555" />
<rect x="477.10" y="458.10" width="0.90" height="17.10" fill="#777" />
<rect x="480.90" y="458.10" width="0.90" height="17.10" fill="#555" />
<rect x="487.10" y="458.10" width="0.90" height="17.10" fill="#666" />
<rect x="489.60" y="458.10" width="0.90" height="17.10" fill="#888" />
<text x="0" y="0" font-size="8.5" fill="#222" stroke="#222" stroke-width="0.22" text-anchor="end" font-style="normal" font-weight="normal" transform="translate(371.60,456.50) scale(1,0.74)">0.0</text>
<line x1="374.59999999999997" y1="454.1" x2="378.2" y2="454.1" stroke="#111" stroke-width="0.9" />
<text x="0" y="0" font-size="8.5" fill="#222" stroke="#222" stroke-width="0.22" text-anchor="end" font-style="normal" font-weight="normal" transform="translate(371.60,444.20) scale(1,0.74)">0.1</text>
<line x1="374.59999999999997" y1="441.8" x2="378.2" y2="441.8" stroke="#111" stroke-width="0.9" />
<text x="0" y="0" font-size="8.5" fill="#222" stroke="#222" stroke-width="0.22" text-anchor="end" font-style="normal" font-weight="normal" transform="translate(371.60,431.90) scale(1,0.74)">0.2</text>
<line x1="374.59999999999997" y1="429.5" x2="378.2" y2="429.5" stroke="#111" stroke-width="0.9" />
<text x="0" y="0" font-size="8.5" fill="#222" stroke="#222" stroke-width="0.22" text-anchor="end" font-style="normal" font-weight="normal" transform="translate(371.60,419.60) scale(1,0.74)">0.3</text>
<line x1="374.59999999999997" y1="417.20000000000005" x2="378.2" y2="417.20000000000005" stroke="#111" stroke-width="0.9" />
<polyline points="378.20,454.00 378.50,452.50 379.80,437.20 381.40,425.90 383.90,420.30 386.30,418.70 388.70,417.10 391.10,413.90 392.70,413.40 395.10,415.00 397.50,417.90 400.80,421.90 404.00,425.10 406.40,426.70 408.80,427.50 411.20,425.90 413.60,424.00 416.10,425.10 419.30,427.50 423.30,430.00 426.50,431.60 429.80,434.00 432.20,433.20 434.60,435.30 437.00,436.40 439.40,438.80 442.60,437.60 445.90,440.40 449.10,442.60 452.10,444.20 456.50,445.90 460.90,448.10 465.40,451.20 469.80,452.60 474.20,454.30 478.60,455.20 483.10,456.10 486.40,455.20 490.80,453.50 494.00,453.80" fill="none" stroke="#74ae4c" stroke-width="1.05" />
<line x1="375.6" y1="454.1" x2="378.2" y2="454.1" stroke="#111" stroke-width="0.8" />
<line x1="375.6" y1="447.95000000000005" x2="378.2" y2="447.95000000000005" stroke="#111" stroke-width="0.8" />
<line x1="375.6" y1="441.8" x2="378.2" y2="441.8" stroke="#111" stroke-width="0.8" />
<line x1="375.6" y1="435.65000000000003" x2="378.2" y2="435.65000000000003" stroke="#111" stroke-width="0.8" />
<line x1="375.6" y1="429.5" x2="378.2" y2="429.5" stroke="#111" stroke-width="0.8" />
<line x1="375.6" y1="423.35" x2="378.2" y2="423.35" stroke="#111" stroke-width="0.8" />
<line x1="375.6" y1="417.20000000000005" x2="378.2" y2="417.20000000000005" stroke="#111" stroke-width="0.8" />
<text x="493.4" y="420.8" font-size="7.75" fill="#222" stroke="#222" stroke-width="0.22" text-anchor="end" font-style="normal" font-weight="normal" >NES=3.36</text>
<text x="493.0" y="431.4" font-size="7.7" fill="#222" stroke="#222" stroke-width="0.22" text-anchor="end" font-style="normal" font-weight="normal" >P&lt;0.001</text>
<text x="381.3" y="452.5" font-size="8.4" fill="#222" stroke="#222" stroke-width="0.22" text-anchor="start" font-style="normal" font-weight="normal" >FLK1<tspan font-size="5" dy="-3">+</tspan><tspan dy="3">/LacZ</tspan><tspan font-size="5" dy="-3">+</tspan></text>
<text x="496.4" y="450.4" font-size="8.4" fill="#222" stroke="#222" stroke-width="0.22" text-anchor="end" font-style="normal" font-weight="normal" >FLK1<tspan font-size="5" dy="-3">+</tspan><tspan dy="3">/LacZ</tspan><tspan font-size="5" dy="-3">-</tspan></text>
<text x="0" y="0" font-size="9.1" fill="#222" stroke="#222" stroke-width="0.22" text-anchor="start" font-style="normal" font-weight="normal" transform="translate(353.8,489.7) rotate(-90)">Enrichment score (ES)</text>
<rect x="0.5" y="0.5" width="519" height="496" fill="none" stroke="#1e1e1e" stroke-width="1"/>
</svg>
</body></html>
